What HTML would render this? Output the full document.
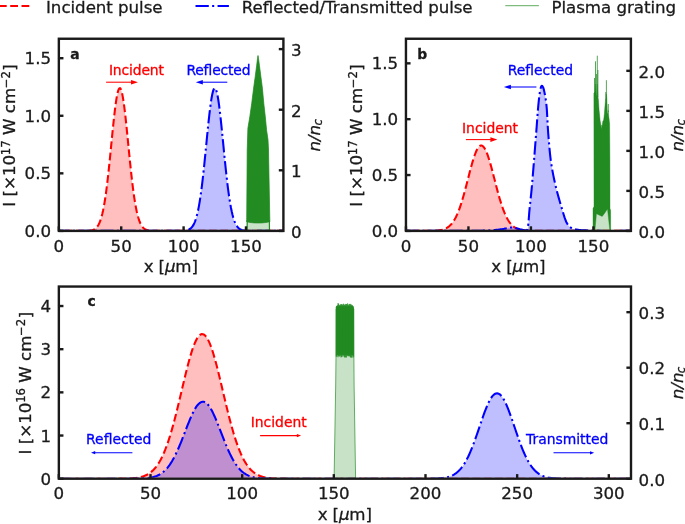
<!DOCTYPE html>
<html><head><meta charset="utf-8"><title>Figure</title>
<style>html,body{margin:0;padding:0;background:#fff}svg{display:block}</style></head>
<body>
<svg width="685" height="524" viewBox="0 0 685 524" font-family='"DejaVu Sans", "Liberation Sans", sans-serif'>
<rect width="685" height="524" fill="#fff"/>
<path d="M-1.1,6 H32.2" stroke="#ff0000" stroke-width="2.08" stroke-dasharray="7.8 3.5" fill="none"/>
<text x="46" y="12.7" font-size="16.67" text-anchor="start" fill="#1a1a1a" stroke="#1a1a1a" stroke-width="0.3" font-weight="normal" textLength="116.6">Incident pulse</text>
<path d="M195.5,6 H228.9" stroke="#0000ff" stroke-width="2.08" stroke-dasharray="13.3 3.33 2.08 3.33" fill="none"/>
<text x="241.8" y="12.7" font-size="16.67" text-anchor="start" fill="#1a1a1a" stroke="#1a1a1a" stroke-width="0.3" font-weight="normal" textLength="230.8">Reflected/Transmitted pulse</text>
<path d="M505.3,5.7 H538.9" stroke="#228b22" stroke-width="0.85" stroke-opacity="0.85" fill="none"/>
<text x="551.5" y="12.7" font-size="16.67" text-anchor="start" fill="#1a1a1a" stroke="#1a1a1a" stroke-width="0.3" font-weight="normal" textLength="124.6">Plasma grating</text>
<clipPath id="ca"><rect x="58.85" y="38.75" width="224.55" height="191.15"/></clipPath>
<path d="M58.85,230.9 L59.6,230.9 L60.35,230.9 L61.1,230.9 L61.84,230.9 L62.59,230.9 L63.34,230.9 L64.09,230.9 L64.84,230.9 L65.59,230.9 L66.34,230.9 L67.08,230.9 L67.83,230.9 L68.58,230.9 L69.33,230.9 L70.08,230.9 L70.83,230.9 L71.57,230.9 L72.32,230.9 L73.07,230.9 L73.82,230.9 L74.57,230.9 L75.32,230.9 L76.07,230.9 L76.81,230.9 L77.56,230.9 L78.31,230.9 L79.06,230.9 L79.81,230.9 L80.56,230.9 L81.31,230.9 L82.05,230.89 L82.8,230.89 L83.55,230.88 L84.3,230.88 L85.05,230.87 L85.8,230.85 L86.54,230.83 L87.29,230.81 L88.04,230.77 L88.79,230.72 L89.54,230.65 L90.29,230.56 L91.04,230.44 L91.78,230.29 L92.53,230.08 L93.28,229.82 L94.03,229.48 L94.78,229.05 L95.53,228.51 L96.28,227.84 L97.02,227 L97.77,225.98 L98.52,224.74 L99.27,223.25 L100.02,221.46 L100.77,219.35 L101.51,216.88 L102.26,214.01 L103.01,210.71 L103.76,206.96 L104.51,202.72 L105.26,198 L106.01,192.78 L106.75,187.07 L107.5,180.9 L108.25,174.3 L109,167.33 L109.75,160.06 L110.5,152.56 L111.25,144.95 L111.99,137.32 L112.74,129.81 L113.49,122.55 L114.24,115.66 L114.99,109.28 L115.74,103.55 L116.48,98.58 L117.23,94.48 L117.98,91.35 L118.73,89.25 L119.48,88.24 L120.23,88.33 L120.98,89.53 L121.72,91.8 L122.47,95.1 L123.22,99.35 L123.97,104.45 L124.72,110.3 L125.47,116.77 L126.22,123.73 L126.96,131.05 L127.71,138.59 L128.46,146.22 L129.21,153.82 L129.96,161.29 L130.71,168.52 L131.45,175.43 L132.2,181.96 L132.95,188.05 L133.7,193.68 L134.45,198.82 L135.2,203.46 L135.95,207.62 L136.69,211.29 L137.44,214.52 L138.19,217.32 L138.94,219.73 L139.69,221.78 L140.44,223.52 L141.19,224.97 L141.93,226.17 L142.68,227.16 L143.43,227.96 L144.18,228.61 L144.93,229.13 L145.68,229.54 L146.42,229.87 L147.17,230.12 L147.92,230.32 L148.67,230.47 L149.42,230.58 L150.17,230.67 L150.92,230.73 L151.66,230.78 L152.41,230.81 L153.16,230.84 L153.91,230.86 L154.66,230.87 L155.41,230.88 L156.16,230.89 L156.9,230.89 L157.65,230.89 L158.4,230.9 L159.15,230.9 L159.9,230.9 L160.65,230.9 L161.39,230.9 L162.14,230.9 L162.89,230.9 L163.64,230.9 L164.39,230.9 L165.14,230.9 L165.89,230.9 L166.63,230.9 L167.38,230.9 L168.13,230.9 L168.88,230.9 L169.63,230.9 L170.38,230.9 L171.12,230.9 L171.87,230.9 L172.62,230.9 L173.37,230.9 L174.12,230.9 L174.87,230.9 L175.62,230.9 L176.36,230.9 L177.11,230.9 L177.86,230.9 L178.61,230.9 L179.36,230.9 L180.11,230.9 L180.86,230.9 L181.6,230.9 L182.35,230.9 L183.1,230.9 L183.85,230.9 L184.6,230.9 L185.35,230.9 L186.09,230.9 L186.84,230.9 L187.59,230.9 L188.34,230.9 L189.09,230.9 L189.84,230.9 L190.59,230.9 L191.33,230.9 L192.08,230.9 L192.83,230.9 L193.58,230.9 L194.33,230.9 L195.08,230.9 L195.83,230.9 L196.57,230.9 L197.32,230.9 L198.07,230.9 L198.82,230.9 L199.57,230.9 L200.32,230.9 L201.06,230.9 L201.81,230.9 L202.56,230.9 L203.31,230.9 L204.06,230.9 L204.81,230.9 L205.56,230.9 L206.3,230.9 L207.05,230.9 L207.8,230.9 L208.55,230.9 L209.3,230.9 L210.05,230.9 L210.8,230.9 L211.54,230.9 L212.29,230.9 L213.04,230.9 L213.79,230.9 L214.54,230.9 L215.29,230.9 L216.03,230.9 L216.78,230.9 L217.53,230.9 L218.28,230.9 L219.03,230.9 L219.78,230.9 L220.53,230.9 L221.27,230.9 L222.02,230.9 L222.77,230.9 L223.52,230.9 L224.27,230.9 L225.02,230.9 L225.77,230.9 L226.51,230.9 L227.26,230.9 L228.01,230.9 L228.76,230.9 L229.51,230.9 L230.26,230.9 L231,230.9 L231.75,230.9 L232.5,230.9 L233.25,230.9 L234,230.9 L234.75,230.9 L235.5,230.9 L236.24,230.9 L236.99,230.9 L237.74,230.9 L238.49,230.9 L239.24,230.9 L239.99,230.9 L240.74,230.9 L241.48,230.9 L242.23,230.9 L242.98,230.9 L243.73,230.9 L244.48,230.9 L245.23,230.9 L245.97,230.9 L246.72,230.9 L247.47,230.9 L248.22,230.9 L248.97,230.9 L249.72,230.9 L250.47,230.9 L251.21,230.9 L251.96,230.9 L252.71,230.9 L253.46,230.9 L254.21,230.9 L254.96,230.9 L255.71,230.9 L256.45,230.9 L257.2,230.9 L257.95,230.9 L258.7,230.9 L259.45,230.9 L260.2,230.9 L260.94,230.9 L261.69,230.9 L262.44,230.9 L263.19,230.9 L263.94,230.9 L264.69,230.9 L265.44,230.9 L266.18,230.9 L266.93,230.9 L267.68,230.9 L268.43,230.9 L269.18,230.9 L269.93,230.9 L270.68,230.9 L271.42,230.9 L272.17,230.9 L272.92,230.9 L273.67,230.9 L274.42,230.9 L275.17,230.9 L275.91,230.9 L276.66,230.9 L277.41,230.9 L278.16,230.9 L278.91,230.9 L279.66,230.9 L280.41,230.9 L281.15,230.9 L281.9,230.9 L282.65,230.9 L283.4,230.9 L283.4,230.9 L58.85,230.9Z" fill="#ff0000" fill-opacity="0.25" clip-path="url(#ca)"/>
<path d="M58.85,230.9 L59.6,230.9 L60.35,230.9 L61.1,230.9 L61.84,230.9 L62.59,230.9 L63.34,230.9 L64.09,230.9 L64.84,230.9 L65.59,230.9 L66.34,230.9 L67.08,230.9 L67.83,230.9 L68.58,230.9 L69.33,230.9 L70.08,230.9 L70.83,230.9 L71.57,230.9 L72.32,230.9 L73.07,230.9 L73.82,230.9 L74.57,230.9 L75.32,230.9 L76.07,230.9 L76.81,230.9 L77.56,230.9 L78.31,230.9 L79.06,230.9 L79.81,230.9 L80.56,230.9 L81.31,230.9 L82.05,230.89 L82.8,230.89 L83.55,230.88 L84.3,230.88 L85.05,230.87 L85.8,230.85 L86.54,230.83 L87.29,230.81 L88.04,230.77 L88.79,230.72 L89.54,230.65 L90.29,230.56 L91.04,230.44 L91.78,230.29 L92.53,230.08 L93.28,229.82 L94.03,229.48 L94.78,229.05 L95.53,228.51 L96.28,227.84 L97.02,227 L97.77,225.98 L98.52,224.74 L99.27,223.25 L100.02,221.46 L100.77,219.35 L101.51,216.88 L102.26,214.01 L103.01,210.71 L103.76,206.96 L104.51,202.72 L105.26,198 L106.01,192.78 L106.75,187.07 L107.5,180.9 L108.25,174.3 L109,167.33 L109.75,160.06 L110.5,152.56 L111.25,144.95 L111.99,137.32 L112.74,129.81 L113.49,122.55 L114.24,115.66 L114.99,109.28 L115.74,103.55 L116.48,98.58 L117.23,94.48 L117.98,91.35 L118.73,89.25 L119.48,88.24 L120.23,88.33 L120.98,89.53 L121.72,91.8 L122.47,95.1 L123.22,99.35 L123.97,104.45 L124.72,110.3 L125.47,116.77 L126.22,123.73 L126.96,131.05 L127.71,138.59 L128.46,146.22 L129.21,153.82 L129.96,161.29 L130.71,168.52 L131.45,175.43 L132.2,181.96 L132.95,188.05 L133.7,193.68 L134.45,198.82 L135.2,203.46 L135.95,207.62 L136.69,211.29 L137.44,214.52 L138.19,217.32 L138.94,219.73 L139.69,221.78 L140.44,223.52 L141.19,224.97 L141.93,226.17 L142.68,227.16 L143.43,227.96 L144.18,228.61 L144.93,229.13 L145.68,229.54 L146.42,229.87 L147.17,230.12 L147.92,230.32 L148.67,230.47 L149.42,230.58 L150.17,230.67 L150.92,230.73 L151.66,230.78 L152.41,230.81 L153.16,230.84 L153.91,230.86 L154.66,230.87 L155.41,230.88 L156.16,230.89 L156.9,230.89 L157.65,230.89 L158.4,230.9 L159.15,230.9 L159.9,230.9 L160.65,230.9 L161.39,230.9 L162.14,230.9 L162.89,230.9 L163.64,230.9 L164.39,230.9 L165.14,230.9 L165.89,230.9 L166.63,230.9 L167.38,230.9 L168.13,230.9 L168.88,230.9 L169.63,230.9 L170.38,230.9 L171.12,230.9 L171.87,230.9 L172.62,230.9 L173.37,230.9 L174.12,230.9 L174.87,230.9 L175.62,230.9 L176.36,230.9 L177.11,230.9 L177.86,230.9 L178.61,230.9 L179.36,230.9 L180.11,230.9 L180.86,230.9 L181.6,230.9 L182.35,230.9 L183.1,230.9 L183.85,230.9 L184.6,230.9 L185.35,230.9 L186.09,230.9 L186.84,230.9 L187.59,230.9 L188.34,230.9 L189.09,230.9 L189.84,230.9 L190.59,230.9 L191.33,230.9 L192.08,230.9 L192.83,230.9 L193.58,230.9 L194.33,230.9 L195.08,230.9 L195.83,230.9 L196.57,230.9 L197.32,230.9 L198.07,230.9 L198.82,230.9 L199.57,230.9 L200.32,230.9 L201.06,230.9 L201.81,230.9 L202.56,230.9 L203.31,230.9 L204.06,230.9 L204.81,230.9 L205.56,230.9 L206.3,230.9 L207.05,230.9 L207.8,230.9 L208.55,230.9 L209.3,230.9 L210.05,230.9 L210.8,230.9 L211.54,230.9 L212.29,230.9 L213.04,230.9 L213.79,230.9 L214.54,230.9 L215.29,230.9 L216.03,230.9 L216.78,230.9 L217.53,230.9 L218.28,230.9 L219.03,230.9 L219.78,230.9 L220.53,230.9 L221.27,230.9 L222.02,230.9 L222.77,230.9 L223.52,230.9 L224.27,230.9 L225.02,230.9 L225.77,230.9 L226.51,230.9 L227.26,230.9 L228.01,230.9 L228.76,230.9 L229.51,230.9 L230.26,230.9 L231,230.9 L231.75,230.9 L232.5,230.9 L233.25,230.9 L234,230.9 L234.75,230.9 L235.5,230.9 L236.24,230.9 L236.99,230.9 L237.74,230.9 L238.49,230.9 L239.24,230.9 L239.99,230.9 L240.74,230.9 L241.48,230.9 L242.23,230.9 L242.98,230.9 L243.73,230.9 L244.48,230.9 L245.23,230.9 L245.97,230.9 L246.72,230.9 L247.47,230.9 L248.22,230.9 L248.97,230.9 L249.72,230.9 L250.47,230.9 L251.21,230.9 L251.96,230.9 L252.71,230.9 L253.46,230.9 L254.21,230.9 L254.96,230.9 L255.71,230.9 L256.45,230.9 L257.2,230.9 L257.95,230.9 L258.7,230.9 L259.45,230.9 L260.2,230.9 L260.94,230.9 L261.69,230.9 L262.44,230.9 L263.19,230.9 L263.94,230.9 L264.69,230.9 L265.44,230.9 L266.18,230.9 L266.93,230.9 L267.68,230.9 L268.43,230.9 L269.18,230.9 L269.93,230.9 L270.68,230.9 L271.42,230.9 L272.17,230.9 L272.92,230.9 L273.67,230.9 L274.42,230.9 L275.17,230.9 L275.91,230.9 L276.66,230.9 L277.41,230.9 L278.16,230.9 L278.91,230.9 L279.66,230.9 L280.41,230.9 L281.15,230.9 L281.9,230.9 L282.65,230.9 L283.4,230.9" fill="none" stroke="#ff0000" stroke-width="2.08" stroke-dasharray="7.8 3.5" stroke-dashoffset="5.38" clip-path="url(#ca)"/>
<path d="M58.85,230.9 L59.6,230.9 L60.35,230.9 L61.1,230.9 L61.84,230.9 L62.59,230.9 L63.34,230.9 L64.09,230.9 L64.84,230.9 L65.59,230.9 L66.34,230.9 L67.08,230.9 L67.83,230.9 L68.58,230.9 L69.33,230.9 L70.08,230.9 L70.83,230.9 L71.57,230.9 L72.32,230.9 L73.07,230.9 L73.82,230.9 L74.57,230.9 L75.32,230.9 L76.07,230.9 L76.81,230.9 L77.56,230.9 L78.31,230.9 L79.06,230.9 L79.81,230.9 L80.56,230.9 L81.31,230.9 L82.05,230.9 L82.8,230.9 L83.55,230.9 L84.3,230.9 L85.05,230.9 L85.8,230.9 L86.54,230.9 L87.29,230.9 L88.04,230.9 L88.79,230.9 L89.54,230.9 L90.29,230.9 L91.04,230.9 L91.78,230.9 L92.53,230.9 L93.28,230.9 L94.03,230.9 L94.78,230.9 L95.53,230.9 L96.28,230.9 L97.02,230.9 L97.77,230.9 L98.52,230.9 L99.27,230.9 L100.02,230.9 L100.77,230.9 L101.51,230.9 L102.26,230.9 L103.01,230.9 L103.76,230.9 L104.51,230.9 L105.26,230.9 L106.01,230.9 L106.75,230.9 L107.5,230.9 L108.25,230.9 L109,230.9 L109.75,230.9 L110.5,230.9 L111.25,230.9 L111.99,230.9 L112.74,230.9 L113.49,230.9 L114.24,230.9 L114.99,230.9 L115.74,230.9 L116.48,230.9 L117.23,230.9 L117.98,230.9 L118.73,230.9 L119.48,230.9 L120.23,230.9 L120.98,230.9 L121.72,230.9 L122.47,230.9 L123.22,230.9 L123.97,230.9 L124.72,230.9 L125.47,230.9 L126.22,230.9 L126.96,230.9 L127.71,230.9 L128.46,230.9 L129.21,230.9 L129.96,230.9 L130.71,230.9 L131.45,230.9 L132.2,230.9 L132.95,230.9 L133.7,230.9 L134.45,230.9 L135.2,230.9 L135.95,230.9 L136.69,230.9 L137.44,230.9 L138.19,230.9 L138.94,230.9 L139.69,230.9 L140.44,230.9 L141.19,230.9 L141.93,230.9 L142.68,230.9 L143.43,230.9 L144.18,230.9 L144.93,230.9 L145.68,230.9 L146.42,230.9 L147.17,230.9 L147.92,230.9 L148.67,230.9 L149.42,230.9 L150.17,230.9 L150.92,230.9 L151.66,230.9 L152.41,230.9 L153.16,230.9 L153.91,230.9 L154.66,230.9 L155.41,230.9 L156.16,230.9 L156.9,230.9 L157.65,230.9 L158.4,230.9 L159.15,230.9 L159.9,230.9 L160.65,230.9 L161.39,230.9 L162.14,230.9 L162.89,230.9 L163.64,230.9 L164.39,230.9 L165.14,230.9 L165.89,230.9 L166.63,230.9 L167.38,230.9 L168.13,230.9 L168.88,230.9 L169.63,230.9 L170.38,230.9 L171.12,230.9 L171.87,230.9 L172.62,230.9 L173.37,230.9 L174.12,230.9 L174.87,230.9 L175.62,230.9 L176.36,230.89 L177.11,230.89 L177.86,230.89 L178.61,230.88 L179.36,230.88 L180.11,230.87 L180.86,230.85 L181.6,230.83 L182.35,230.8 L183.1,230.77 L183.85,230.72 L184.6,230.65 L185.35,230.55 L186.09,230.43 L186.84,230.27 L187.59,230.06 L188.34,229.79 L189.09,229.45 L189.84,229.01 L190.59,228.46 L191.33,227.78 L192.08,226.93 L192.83,225.89 L193.58,224.63 L194.33,223.11 L195.08,221.3 L195.83,219.16 L196.57,216.66 L197.32,213.75 L198.07,210.42 L198.82,206.62 L199.57,202.35 L200.32,197.58 L201.06,192.32 L201.81,186.57 L202.56,180.36 L203.31,173.74 L204.06,166.74 L204.81,159.44 L205.56,151.93 L206.3,144.31 L207.05,136.69 L207.8,129.2 L208.55,121.96 L209.3,115.11 L210.05,108.78 L210.8,103.1 L211.54,98.2 L212.29,94.18 L213.04,91.13 L213.79,89.12 L214.54,88.2 L215.29,88.39 L216.03,89.68 L216.78,92.04 L217.53,95.42 L218.28,99.74 L219.03,104.91 L219.78,110.82 L220.53,117.34 L221.27,124.33 L222.02,131.67 L222.77,139.22 L223.52,146.86 L224.27,154.45 L225.02,161.9 L225.77,169.11 L226.51,175.99 L227.26,182.48 L228.01,188.54 L228.76,194.13 L229.51,199.22 L230.26,203.83 L231,207.94 L231.75,211.58 L232.5,214.77 L233.25,217.53 L234,219.91 L234.75,221.94 L235.5,223.65 L236.24,225.07 L236.99,226.26 L237.74,227.23 L238.49,228.02 L239.24,228.66 L239.99,229.17 L240.74,229.57 L241.48,229.89 L242.23,230.14 L242.98,230.33 L243.73,230.48 L244.48,230.59 L245.23,230.67 L245.97,230.73 L246.72,230.78 L247.47,230.81 L248.22,230.84 L248.97,230.86 L249.72,230.87 L250.47,230.88 L251.21,230.89 L251.96,230.89 L252.71,230.89 L253.46,230.9 L254.21,230.9 L254.96,230.9 L255.71,230.9 L256.45,230.9 L257.2,230.9 L257.95,230.9 L258.7,230.9 L259.45,230.9 L260.2,230.9 L260.94,230.9 L261.69,230.9 L262.44,230.9 L263.19,230.9 L263.94,230.9 L264.69,230.9 L265.44,230.9 L266.18,230.9 L266.93,230.9 L267.68,230.9 L268.43,230.9 L269.18,230.9 L269.93,230.9 L270.68,230.9 L271.42,230.9 L272.17,230.9 L272.92,230.9 L273.67,230.9 L274.42,230.9 L275.17,230.9 L275.91,230.9 L276.66,230.9 L277.41,230.9 L278.16,230.9 L278.91,230.9 L279.66,230.9 L280.41,230.9 L281.15,230.9 L281.9,230.9 L282.65,230.9 L283.4,230.9 L283.4,230.9 L58.85,230.9Z" fill="#0000ff" fill-opacity="0.25" clip-path="url(#ca)"/>
<path d="M58.85,230.9 L59.6,230.9 L60.35,230.9 L61.1,230.9 L61.84,230.9 L62.59,230.9 L63.34,230.9 L64.09,230.9 L64.84,230.9 L65.59,230.9 L66.34,230.9 L67.08,230.9 L67.83,230.9 L68.58,230.9 L69.33,230.9 L70.08,230.9 L70.83,230.9 L71.57,230.9 L72.32,230.9 L73.07,230.9 L73.82,230.9 L74.57,230.9 L75.32,230.9 L76.07,230.9 L76.81,230.9 L77.56,230.9 L78.31,230.9 L79.06,230.9 L79.81,230.9 L80.56,230.9 L81.31,230.9 L82.05,230.9 L82.8,230.9 L83.55,230.9 L84.3,230.9 L85.05,230.9 L85.8,230.9 L86.54,230.9 L87.29,230.9 L88.04,230.9 L88.79,230.9 L89.54,230.9 L90.29,230.9 L91.04,230.9 L91.78,230.9 L92.53,230.9 L93.28,230.9 L94.03,230.9 L94.78,230.9 L95.53,230.9 L96.28,230.9 L97.02,230.9 L97.77,230.9 L98.52,230.9 L99.27,230.9 L100.02,230.9 L100.77,230.9 L101.51,230.9 L102.26,230.9 L103.01,230.9 L103.76,230.9 L104.51,230.9 L105.26,230.9 L106.01,230.9 L106.75,230.9 L107.5,230.9 L108.25,230.9 L109,230.9 L109.75,230.9 L110.5,230.9 L111.25,230.9 L111.99,230.9 L112.74,230.9 L113.49,230.9 L114.24,230.9 L114.99,230.9 L115.74,230.9 L116.48,230.9 L117.23,230.9 L117.98,230.9 L118.73,230.9 L119.48,230.9 L120.23,230.9 L120.98,230.9 L121.72,230.9 L122.47,230.9 L123.22,230.9 L123.97,230.9 L124.72,230.9 L125.47,230.9 L126.22,230.9 L126.96,230.9 L127.71,230.9 L128.46,230.9 L129.21,230.9 L129.96,230.9 L130.71,230.9 L131.45,230.9 L132.2,230.9 L132.95,230.9 L133.7,230.9 L134.45,230.9 L135.2,230.9 L135.95,230.9 L136.69,230.9 L137.44,230.9 L138.19,230.9 L138.94,230.9 L139.69,230.9 L140.44,230.9 L141.19,230.9 L141.93,230.9 L142.68,230.9 L143.43,230.9 L144.18,230.9 L144.93,230.9 L145.68,230.9 L146.42,230.9 L147.17,230.9 L147.92,230.9 L148.67,230.9 L149.42,230.9 L150.17,230.9 L150.92,230.9 L151.66,230.9 L152.41,230.9 L153.16,230.9 L153.91,230.9 L154.66,230.9 L155.41,230.9 L156.16,230.9 L156.9,230.9 L157.65,230.9 L158.4,230.9 L159.15,230.9 L159.9,230.9 L160.65,230.9 L161.39,230.9 L162.14,230.9 L162.89,230.9 L163.64,230.9 L164.39,230.9 L165.14,230.9 L165.89,230.9 L166.63,230.9 L167.38,230.9 L168.13,230.9 L168.88,230.9 L169.63,230.9 L170.38,230.9 L171.12,230.9 L171.87,230.9 L172.62,230.9 L173.37,230.9 L174.12,230.9 L174.87,230.9 L175.62,230.9 L176.36,230.89 L177.11,230.89 L177.86,230.89 L178.61,230.88 L179.36,230.88 L180.11,230.87 L180.86,230.85 L181.6,230.83 L182.35,230.8 L183.1,230.77 L183.85,230.72 L184.6,230.65 L185.35,230.55 L186.09,230.43 L186.84,230.27 L187.59,230.06 L188.34,229.79 L189.09,229.45 L189.84,229.01 L190.59,228.46 L191.33,227.78 L192.08,226.93 L192.83,225.89 L193.58,224.63 L194.33,223.11 L195.08,221.3 L195.83,219.16 L196.57,216.66 L197.32,213.75 L198.07,210.42 L198.82,206.62 L199.57,202.35 L200.32,197.58 L201.06,192.32 L201.81,186.57 L202.56,180.36 L203.31,173.74 L204.06,166.74 L204.81,159.44 L205.56,151.93 L206.3,144.31 L207.05,136.69 L207.8,129.2 L208.55,121.96 L209.3,115.11 L210.05,108.78 L210.8,103.1 L211.54,98.2 L212.29,94.18 L213.04,91.13 L213.79,89.12 L214.54,88.2 L215.29,88.39 L216.03,89.68 L216.78,92.04 L217.53,95.42 L218.28,99.74 L219.03,104.91 L219.78,110.82 L220.53,117.34 L221.27,124.33 L222.02,131.67 L222.77,139.22 L223.52,146.86 L224.27,154.45 L225.02,161.9 L225.77,169.11 L226.51,175.99 L227.26,182.48 L228.01,188.54 L228.76,194.13 L229.51,199.22 L230.26,203.83 L231,207.94 L231.75,211.58 L232.5,214.77 L233.25,217.53 L234,219.91 L234.75,221.94 L235.5,223.65 L236.24,225.07 L236.99,226.26 L237.74,227.23 L238.49,228.02 L239.24,228.66 L239.99,229.17 L240.74,229.57 L241.48,229.89 L242.23,230.14 L242.98,230.33 L243.73,230.48 L244.48,230.59 L245.23,230.67 L245.97,230.73 L246.72,230.78 L247.47,230.81 L248.22,230.84 L248.97,230.86 L249.72,230.87 L250.47,230.88 L251.21,230.89 L251.96,230.89 L252.71,230.89 L253.46,230.9 L254.21,230.9 L254.96,230.9 L255.71,230.9 L256.45,230.9 L257.2,230.9 L257.95,230.9 L258.7,230.9 L259.45,230.9 L260.2,230.9 L260.94,230.9 L261.69,230.9 L262.44,230.9 L263.19,230.9 L263.94,230.9 L264.69,230.9 L265.44,230.9 L266.18,230.9 L266.93,230.9 L267.68,230.9 L268.43,230.9 L269.18,230.9 L269.93,230.9 L270.68,230.9 L271.42,230.9 L272.17,230.9 L272.92,230.9 L273.67,230.9 L274.42,230.9 L275.17,230.9 L275.91,230.9 L276.66,230.9 L277.41,230.9 L278.16,230.9 L278.91,230.9 L279.66,230.9 L280.41,230.9 L281.15,230.9 L281.9,230.9 L282.65,230.9 L283.4,230.9" fill="none" stroke="#0000ff" stroke-width="2.08" stroke-dasharray="13.3 3.33 2.08 3.33" stroke-dashoffset="2.6" clip-path="url(#ca)"/>
<path d="M246.5,230.9 L247.2,150 L247.9,128.2 L249.8,116.8 L251.7,103.4 L253.6,88.2 L255.2,76.7 L256.7,65.3 L257.5,58.5 L258,55.5 L258.5,58.5 L259.4,65.3 L260.9,76.7 L262.4,88.2 L263.8,103.4 L265.3,116.8 L266.6,130.2 L268,139.7 L268.5,150 L270,230.9Z" fill="#228b22" fill-opacity="0.25"/>
<path d="M247.2,150 L247.9,128.2 L249.8,116.8 L251.7,103.4 L253.6,88.2 L255.2,76.7 L256.7,65.3 L257.5,58.5 L258,55.5 L258.5,58.5 L259.4,65.3 L260.9,76.7 L262.4,88.2 L263.8,103.4 L265.3,116.8 L266.6,130.2 L268,139.7 L268.5,150 L269.85,221.9 L268.8,221.9 L266,222.5 L262,222.9 L258,223 L254,222.9 L250,222.5 L247.8,221.9 L246.7,221.9Z" fill="#228b22" stroke="#228b22" stroke-width="0.7" stroke-linejoin="round"/>
<path d="M247.1,230.9 L247.3,220 M269.5,230.9 L269.35,220" stroke="#228b22" stroke-width="1.2" fill="none"/>
<rect x="58.85" y="38.75" width="224.55" height="192.15" fill="none" stroke="#1a1a1a" stroke-width="2.4"/>
<path d="M58.85,230.9 V226.3" stroke="#1a1a1a" stroke-width="2.4"/>
<text x="58.85" y="251.6" font-size="16.67" text-anchor="middle" fill="#1a1a1a" stroke="#1a1a1a" stroke-width="0.3" font-weight="normal">0</text>
<path d="M121.22,230.9 V226.3" stroke="#1a1a1a" stroke-width="2.4"/>
<text x="121.22" y="251.6" font-size="16.67" text-anchor="middle" fill="#1a1a1a" stroke="#1a1a1a" stroke-width="0.3" font-weight="normal">50</text>
<path d="M183.6,230.9 V226.3" stroke="#1a1a1a" stroke-width="2.4"/>
<text x="183.6" y="251.6" font-size="16.67" text-anchor="middle" fill="#1a1a1a" stroke="#1a1a1a" stroke-width="0.3" font-weight="normal">100</text>
<path d="M245.97,230.9 V226.3" stroke="#1a1a1a" stroke-width="2.4"/>
<text x="245.97" y="251.6" font-size="16.67" text-anchor="middle" fill="#1a1a1a" stroke="#1a1a1a" stroke-width="0.3" font-weight="normal">150</text>
<path d="M58.85,230.9 H63.45" stroke="#1a1a1a" stroke-width="2.4"/>
<text x="51.05" y="236.9" font-size="16.67" text-anchor="end" fill="#1a1a1a" stroke="#1a1a1a" stroke-width="0.3" font-weight="normal">0.0</text>
<path d="M58.85,173.34 H63.45" stroke="#1a1a1a" stroke-width="2.4"/>
<text x="51.05" y="179.34" font-size="16.67" text-anchor="end" fill="#1a1a1a" stroke="#1a1a1a" stroke-width="0.3" font-weight="normal">0.5</text>
<path d="M58.85,115.77 H63.45" stroke="#1a1a1a" stroke-width="2.4"/>
<text x="51.05" y="121.77" font-size="16.67" text-anchor="end" fill="#1a1a1a" stroke="#1a1a1a" stroke-width="0.3" font-weight="normal">1.0</text>
<path d="M58.85,58.21 H63.45" stroke="#1a1a1a" stroke-width="2.4"/>
<text x="51.05" y="64.21" font-size="16.67" text-anchor="end" fill="#1a1a1a" stroke="#1a1a1a" stroke-width="0.3" font-weight="normal">1.5</text>
<path d="M283.4,230.9 H278.8" stroke="#1a1a1a" stroke-width="2.4"/>
<text x="291" y="237.7" font-size="16.67" text-anchor="start" fill="#1a1a1a" stroke="#1a1a1a" stroke-width="0.3" font-weight="normal">0</text>
<path d="M283.4,170.3 H278.8" stroke="#1a1a1a" stroke-width="2.4"/>
<text x="291" y="177.1" font-size="16.67" text-anchor="start" fill="#1a1a1a" stroke="#1a1a1a" stroke-width="0.3" font-weight="normal">1</text>
<path d="M283.4,109.71 H278.8" stroke="#1a1a1a" stroke-width="2.4"/>
<text x="291" y="116.51" font-size="16.67" text-anchor="start" fill="#1a1a1a" stroke="#1a1a1a" stroke-width="0.3" font-weight="normal">2</text>
<path d="M283.4,49.11 H278.8" stroke="#1a1a1a" stroke-width="2.4"/>
<text x="291" y="55.91" font-size="16.67" text-anchor="start" fill="#1a1a1a" stroke="#1a1a1a" stroke-width="0.3" font-weight="normal">3</text>
<text x="143.7" y="272" font-size="16.67" text-anchor="start" textLength="54.2" fill="#1a1a1a" stroke="#1a1a1a" stroke-width="0.3">x [<tspan font-style="italic">μ</tspan>m]</text>
<text transform="translate(15.2,206.7) rotate(-90)" font-size="16.67" text-anchor="start" fill="#1a1a1a" stroke="#1a1a1a" stroke-width="0.3">I [×10<tspan dx="-0.3" dy="-5.3" font-size="11.67">17</tspan><tspan dy="5.3"> W cm</tspan><tspan dx="-0.5" dy="-5.3" font-size="11.67">−2</tspan><tspan dx="0.5" dy="5.3">]</tspan></text>
<text transform="translate(320.1,135.3) rotate(-90)" font-size="16.67" text-anchor="middle" fill="#1a1a1a" stroke="#1a1a1a" stroke-width="0.3" font-style="italic">n/n<tspan dx="-0.6" dy="1.4" font-size="11.67">c</tspan></text>
<text x="70.2" y="58.7" font-size="13.9" text-anchor="start" fill="#1a1a1a" stroke="#1a1a1a" stroke-width="0.3" font-weight="bold">a</text>
<text x="108.9" y="75.2" font-size="13.9" text-anchor="start" fill="#ff0000" stroke="#ff0000" stroke-width="0.3" font-weight="normal" textLength="55.1">Incident</text>
<path d="M106.1,82.2 L133.1,82.2" stroke="#ff0000" stroke-width="1.05" fill="none"/>
<path d="M138,82.2 L131,79.9 L131,84.5 Z" fill="#ff0000"/>
<text x="186.4" y="75.2" font-size="13.9" text-anchor="start" fill="#0000ff" stroke="#0000ff" stroke-width="0.3" font-weight="normal" textLength="64.1">Reflected</text>
<path d="M227.3,82.2 L200.7,82.2" stroke="#0000ff" stroke-width="1.05" fill="none"/>
<path d="M195.8,82.2 L202.8,79.9 L202.8,84.5 Z" fill="#0000ff"/>
<clipPath id="cb"><rect x="405.95" y="38.75" width="224.95" height="191.15"/></clipPath>
<path d="M405.95,230.9 L406.7,230.9 L407.45,230.9 L408.2,230.9 L408.95,230.9 L409.7,230.9 L410.45,230.9 L411.2,230.9 L411.95,230.9 L412.7,230.9 L413.45,230.9 L414.2,230.9 L414.95,230.9 L415.7,230.9 L416.45,230.9 L417.2,230.9 L417.95,230.9 L418.7,230.9 L419.45,230.9 L420.2,230.9 L420.95,230.9 L421.7,230.9 L422.45,230.9 L423.2,230.89 L423.95,230.89 L424.7,230.89 L425.45,230.89 L426.2,230.88 L426.95,230.88 L427.7,230.88 L428.44,230.87 L429.19,230.86 L429.94,230.85 L430.69,230.84 L431.44,230.83 L432.19,230.81 L432.94,230.79 L433.69,230.76 L434.44,230.73 L435.19,230.69 L435.94,230.65 L436.69,230.6 L437.44,230.53 L438.19,230.46 L438.94,230.37 L439.69,230.27 L440.44,230.15 L441.19,230 L441.94,229.84 L442.69,229.65 L443.44,229.42 L444.19,229.17 L444.94,228.88 L445.69,228.54 L446.44,228.16 L447.19,227.73 L447.94,227.24 L448.69,226.68 L449.44,226.06 L450.19,225.37 L450.94,224.6 L451.69,223.74 L452.44,222.79 L453.19,221.74 L453.94,220.6 L454.69,219.34 L455.44,217.98 L456.19,216.5 L456.94,214.9 L457.69,213.18 L458.44,211.34 L459.19,209.38 L459.94,207.3 L460.69,205.1 L461.44,202.78 L462.19,200.35 L462.94,197.82 L463.69,195.2 L464.44,192.49 L465.19,189.7 L465.94,186.86 L466.69,183.97 L467.44,181.05 L468.19,178.12 L468.94,175.2 L469.69,172.3 L470.44,169.45 L471.19,166.66 L471.94,163.96 L472.69,161.38 L473.44,158.92 L474.18,156.62 L474.93,154.49 L475.68,152.54 L476.43,150.81 L477.18,149.3 L477.93,148.02 L478.68,147 L479.43,146.24 L480.18,145.74 L480.93,145.51 L481.68,145.55 L482.43,145.87 L483.18,146.46 L483.93,147.31 L484.68,148.42 L485.43,149.78 L486.18,151.36 L486.93,153.17 L487.68,155.18 L488.43,157.37 L489.18,159.72 L489.93,162.23 L490.68,164.85 L491.43,167.58 L492.18,170.39 L492.93,173.26 L493.68,176.17 L494.43,179.1 L495.18,182.03 L495.93,184.94 L496.68,187.81 L497.43,190.64 L498.18,193.4 L498.93,196.08 L499.68,198.68 L500.43,201.17 L501.18,203.56 L501.93,205.84 L502.68,208 L503.43,210.05 L504.18,211.97 L504.93,213.77 L505.68,215.45 L506.43,217 L507.18,218.44 L507.93,219.77 L508.68,220.99 L509.43,222.1 L510.18,223.11 L510.93,224.03 L511.68,224.86 L512.43,225.61 L513.18,226.28 L513.93,226.87 L514.68,227.41 L515.43,227.88 L516.18,228.29 L516.93,228.66 L517.68,228.98 L518.42,229.26 L519.17,229.5 L519.92,229.71 L520.67,229.9 L521.42,230.05 L522.17,230.19 L522.92,230.3 L523.67,230.4 L524.42,230.49 L525.17,230.56 L525.92,230.62 L526.67,230.67 L527.42,230.71 L528.17,230.74 L528.92,230.77 L529.67,230.79 L530.42,230.81 L531.17,230.83 L531.92,230.84 L532.67,230.86 L533.42,230.86 L534.17,230.87 L534.92,230.88 L535.67,230.88 L536.42,230.89 L537.17,230.89 L537.92,230.89 L538.67,230.89 L539.42,230.89 L540.17,230.9 L540.92,230.9 L541.67,230.9 L542.42,230.9 L543.17,230.9 L543.92,230.9 L544.67,230.9 L545.42,230.9 L546.17,230.9 L546.92,230.9 L547.67,230.9 L548.42,230.9 L549.17,230.9 L549.92,230.9 L550.67,230.9 L551.42,230.9 L552.17,230.9 L552.92,230.9 L553.67,230.9 L554.42,230.9 L555.17,230.9 L555.92,230.9 L556.67,230.9 L557.42,230.9 L558.17,230.9 L558.92,230.9 L559.67,230.9 L560.42,230.9 L561.17,230.9 L561.92,230.9 L562.67,230.9 L563.41,230.9 L564.16,230.9 L564.91,230.9 L565.66,230.9 L566.41,230.9 L567.16,230.9 L567.91,230.9 L568.66,230.9 L569.41,230.9 L570.16,230.9 L570.91,230.9 L571.66,230.9 L572.41,230.9 L573.16,230.9 L573.91,230.9 L574.66,230.9 L575.41,230.9 L576.16,230.9 L576.91,230.9 L577.66,230.9 L578.41,230.9 L579.16,230.9 L579.91,230.9 L580.66,230.9 L581.41,230.9 L582.16,230.9 L582.91,230.9 L583.66,230.9 L584.41,230.9 L585.16,230.9 L585.91,230.9 L586.66,230.9 L587.41,230.9 L588.16,230.9 L588.91,230.9 L589.66,230.9 L590.41,230.9 L591.16,230.9 L591.91,230.9 L592.66,230.9 L593.41,230.9 L594.16,230.9 L594.91,230.9 L595.66,230.9 L596.41,230.9 L597.16,230.9 L597.91,230.9 L598.66,230.9 L599.41,230.9 L600.16,230.9 L600.91,230.9 L601.66,230.9 L602.41,230.9 L603.16,230.9 L603.91,230.9 L604.66,230.9 L605.41,230.9 L606.16,230.9 L606.91,230.9 L607.66,230.9 L608.4,230.9 L609.15,230.9 L609.9,230.9 L610.65,230.9 L611.4,230.9 L612.15,230.9 L612.9,230.9 L613.65,230.9 L614.4,230.9 L615.15,230.9 L615.9,230.9 L616.65,230.9 L617.4,230.9 L618.15,230.9 L618.9,230.9 L619.65,230.9 L620.4,230.9 L621.15,230.9 L621.9,230.9 L622.65,230.9 L623.4,230.9 L624.15,230.9 L624.9,230.9 L625.65,230.9 L626.4,230.9 L627.15,230.9 L627.9,230.9 L628.65,230.9 L629.4,230.9 L630.15,230.9 L630.9,230.9 L630.9,230.9 L405.95,230.9Z" fill="#ff0000" fill-opacity="0.25" clip-path="url(#cb)"/>
<path d="M405.95,230.9 L406.7,230.9 L407.45,230.9 L408.2,230.9 L408.95,230.9 L409.7,230.9 L410.45,230.9 L411.2,230.9 L411.95,230.9 L412.7,230.9 L413.45,230.9 L414.2,230.9 L414.95,230.9 L415.7,230.9 L416.45,230.9 L417.2,230.9 L417.95,230.9 L418.7,230.9 L419.45,230.9 L420.2,230.9 L420.95,230.9 L421.7,230.9 L422.45,230.9 L423.2,230.89 L423.95,230.89 L424.7,230.89 L425.45,230.89 L426.2,230.88 L426.95,230.88 L427.7,230.88 L428.44,230.87 L429.19,230.86 L429.94,230.85 L430.69,230.84 L431.44,230.83 L432.19,230.81 L432.94,230.79 L433.69,230.76 L434.44,230.73 L435.19,230.69 L435.94,230.65 L436.69,230.6 L437.44,230.53 L438.19,230.46 L438.94,230.37 L439.69,230.27 L440.44,230.15 L441.19,230 L441.94,229.84 L442.69,229.65 L443.44,229.42 L444.19,229.17 L444.94,228.88 L445.69,228.54 L446.44,228.16 L447.19,227.73 L447.94,227.24 L448.69,226.68 L449.44,226.06 L450.19,225.37 L450.94,224.6 L451.69,223.74 L452.44,222.79 L453.19,221.74 L453.94,220.6 L454.69,219.34 L455.44,217.98 L456.19,216.5 L456.94,214.9 L457.69,213.18 L458.44,211.34 L459.19,209.38 L459.94,207.3 L460.69,205.1 L461.44,202.78 L462.19,200.35 L462.94,197.82 L463.69,195.2 L464.44,192.49 L465.19,189.7 L465.94,186.86 L466.69,183.97 L467.44,181.05 L468.19,178.12 L468.94,175.2 L469.69,172.3 L470.44,169.45 L471.19,166.66 L471.94,163.96 L472.69,161.38 L473.44,158.92 L474.18,156.62 L474.93,154.49 L475.68,152.54 L476.43,150.81 L477.18,149.3 L477.93,148.02 L478.68,147 L479.43,146.24 L480.18,145.74 L480.93,145.51 L481.68,145.55 L482.43,145.87 L483.18,146.46 L483.93,147.31 L484.68,148.42 L485.43,149.78 L486.18,151.36 L486.93,153.17 L487.68,155.18 L488.43,157.37 L489.18,159.72 L489.93,162.23 L490.68,164.85 L491.43,167.58 L492.18,170.39 L492.93,173.26 L493.68,176.17 L494.43,179.1 L495.18,182.03 L495.93,184.94 L496.68,187.81 L497.43,190.64 L498.18,193.4 L498.93,196.08 L499.68,198.68 L500.43,201.17 L501.18,203.56 L501.93,205.84 L502.68,208 L503.43,210.05 L504.18,211.97 L504.93,213.77 L505.68,215.45 L506.43,217 L507.18,218.44 L507.93,219.77 L508.68,220.99 L509.43,222.1 L510.18,223.11 L510.93,224.03 L511.68,224.86 L512.43,225.61 L513.18,226.28 L513.93,226.87 L514.68,227.41 L515.43,227.88 L516.18,228.29 L516.93,228.66 L517.68,228.98 L518.42,229.26 L519.17,229.5 L519.92,229.71 L520.67,229.9 L521.42,230.05 L522.17,230.19 L522.92,230.3 L523.67,230.4 L524.42,230.49 L525.17,230.56 L525.92,230.62 L526.67,230.67 L527.42,230.71 L528.17,230.74 L528.92,230.77 L529.67,230.79 L530.42,230.81 L531.17,230.83 L531.92,230.84 L532.67,230.86 L533.42,230.86 L534.17,230.87 L534.92,230.88 L535.67,230.88 L536.42,230.89 L537.17,230.89 L537.92,230.89 L538.67,230.89 L539.42,230.89 L540.17,230.9 L540.92,230.9 L541.67,230.9 L542.42,230.9 L543.17,230.9 L543.92,230.9 L544.67,230.9 L545.42,230.9 L546.17,230.9 L546.92,230.9 L547.67,230.9 L548.42,230.9 L549.17,230.9 L549.92,230.9 L550.67,230.9 L551.42,230.9 L552.17,230.9 L552.92,230.9 L553.67,230.9 L554.42,230.9 L555.17,230.9 L555.92,230.9 L556.67,230.9 L557.42,230.9 L558.17,230.9 L558.92,230.9 L559.67,230.9 L560.42,230.9 L561.17,230.9 L561.92,230.9 L562.67,230.9 L563.41,230.9 L564.16,230.9 L564.91,230.9 L565.66,230.9 L566.41,230.9 L567.16,230.9 L567.91,230.9 L568.66,230.9 L569.41,230.9 L570.16,230.9 L570.91,230.9 L571.66,230.9 L572.41,230.9 L573.16,230.9 L573.91,230.9 L574.66,230.9 L575.41,230.9 L576.16,230.9 L576.91,230.9 L577.66,230.9 L578.41,230.9 L579.16,230.9 L579.91,230.9 L580.66,230.9 L581.41,230.9 L582.16,230.9 L582.91,230.9 L583.66,230.9 L584.41,230.9 L585.16,230.9 L585.91,230.9 L586.66,230.9 L587.41,230.9 L588.16,230.9 L588.91,230.9 L589.66,230.9 L590.41,230.9 L591.16,230.9 L591.91,230.9 L592.66,230.9 L593.41,230.9 L594.16,230.9 L594.91,230.9 L595.66,230.9 L596.41,230.9 L597.16,230.9 L597.91,230.9 L598.66,230.9 L599.41,230.9 L600.16,230.9 L600.91,230.9 L601.66,230.9 L602.41,230.9 L603.16,230.9 L603.91,230.9 L604.66,230.9 L605.41,230.9 L606.16,230.9 L606.91,230.9 L607.66,230.9 L608.4,230.9 L609.15,230.9 L609.9,230.9 L610.65,230.9 L611.4,230.9 L612.15,230.9 L612.9,230.9 L613.65,230.9 L614.4,230.9 L615.15,230.9 L615.9,230.9 L616.65,230.9 L617.4,230.9 L618.15,230.9 L618.9,230.9 L619.65,230.9 L620.4,230.9 L621.15,230.9 L621.9,230.9 L622.65,230.9 L623.4,230.9 L624.15,230.9 L624.9,230.9 L625.65,230.9 L626.4,230.9 L627.15,230.9 L627.9,230.9 L628.65,230.9 L629.4,230.9 L630.15,230.9 L630.9,230.9" fill="none" stroke="#ff0000" stroke-width="2.08" stroke-dasharray="7.8 3.5" stroke-dashoffset="4.86" clip-path="url(#cb)"/>
<path d="M406.6,230.9 L414.06,230.89 L424.83,230.88 L437.36,230.86 L450.1,230.84 L461.5,230.82 L470,230.8 L475.36,230.78 L478.77,230.76 L480.84,230.73 L482.16,230.7 L483.35,230.66 L485,230.6 L486.98,230.53 L488.78,230.44 L490.44,230.35 L492,230.24 L493.51,230.13 L495,230 L496.48,229.85 L497.93,229.69 L499.31,229.52 L500.63,229.34 L501.86,229.17 L503,228.99 L504.02,228.82 L504.94,228.64 L505.78,228.46 L506.56,228.29 L507.29,228.13 L508,227.99 L508.67,227.87 L509.28,227.75 L509.84,227.65 L510.39,227.57 L510.93,227.52 L511.5,227.49 L512.07,227.49 L512.61,227.52 L513.16,227.58 L513.72,227.66 L514.33,227.76 L515,227.89 L515.75,228.06 L516.57,228.27 L517.44,228.51 L518.31,228.75 L519.18,228.98 L520,229.2 L520.8,229.39 L521.6,229.6 L522.39,229.79 L523.15,229.96 L523.86,230.1 L524.5,230.2 L525.07,230.3 L525.59,230.42 L526.06,230.51 L526.49,230.51 L526.86,230.36 L527.2,230 L527.47,229.48 L527.68,228.86 L527.84,228.09 L527.99,227.12 L528.13,225.9 L528.3,224.38 L528.48,222.54 L528.66,220.42 L528.83,218.05 L529.02,215.46 L529.24,212.68 L529.5,209.74 L529.81,206.63 L530.16,203.32 L530.53,199.82 L530.92,196.14 L531.32,192.29 L531.7,188.28 L532.08,184.08 L532.46,179.65 L532.84,175.06 L533.22,170.35 L533.61,165.55 L534,160.71 L534.4,155.71 L534.81,150.51 L535.22,145.23 L535.63,139.98 L536.03,134.91 L536.4,130.12 L536.75,125.57 L537.07,121.14 L537.38,116.88 L537.69,112.83 L537.99,109.04 L538.3,105.55 L538.62,102.35 L538.94,99.38 L539.26,96.67 L539.58,94.24 L539.89,92.12 L540.2,90.31 L540.49,88.85 L540.77,87.71 L541.04,86.88 L541.31,86.32 L541.6,86 L541.9,85.9 L542.22,86 L542.56,86.32 L542.9,86.88 L543.26,87.71 L543.62,88.85 L544,90.31 L544.41,92.12 L544.84,94.24 L545.29,96.67 L545.73,99.38 L546.14,102.35 L546.5,105.55 L546.8,109.11 L547.05,113.06 L547.27,117.26 L547.49,121.59 L547.73,125.93 L548,130.12 L548.31,134.31 L548.65,138.62 L549.01,142.93 L549.37,147.11 L549.74,151.04 L550.1,154.59 L550.44,157.64 L550.76,160.27 L551.09,162.64 L551.44,164.93 L551.83,167.31 L552.3,169.93 L552.84,172.82 L553.43,175.83 L554.07,178.92 L554.75,182.05 L555.46,185.19 L556.2,188.28 L556.98,191.38 L557.81,194.51 L558.68,197.65 L559.56,200.74 L560.44,203.75 L561.3,206.63 L562.14,209.47 L562.97,212.31 L563.79,215.07 L564.62,217.66 L565.46,219.99 L566.3,221.98 L567.14,223.58 L567.97,224.86 L568.81,225.89 L569.66,226.72 L570.56,227.43 L571.5,228.09 L572.48,228.64 L573.47,229.02 L574.49,229.28 L575.58,229.47 L576.74,229.62 L578,229.8 L579.35,229.98 L580.77,230.12 L582.26,230.23 L583.84,230.32 L585.52,230.41 L587.3,230.5 L589.01,230.59 L590.6,230.67 L592.29,230.74 L594.29,230.81 L596.78,230.86 L600,230.9 L604.47,230.92 L610.13,230.93 L616.29,230.93 L622.29,230.91 L627.42,230.9 L631,230.9 L631,230.9 L406.6,230.9Z" fill="#0000ff" fill-opacity="0.25" clip-path="url(#cb)"/>
<path d="M406.6,230.9 L414.06,230.89 L424.83,230.88 L437.36,230.86 L450.1,230.84 L461.5,230.82 L470,230.8 L475.36,230.78 L478.77,230.76 L480.84,230.73 L482.16,230.7 L483.35,230.66 L485,230.6 L486.98,230.53 L488.78,230.44 L490.44,230.35 L492,230.24 L493.51,230.13 L495,230 L496.48,229.85 L497.93,229.69 L499.31,229.52 L500.63,229.34 L501.86,229.17 L503,228.99 L504.02,228.82 L504.94,228.64 L505.78,228.46 L506.56,228.29 L507.29,228.13 L508,227.99 L508.67,227.87 L509.28,227.75 L509.84,227.65 L510.39,227.57 L510.93,227.52 L511.5,227.49 L512.07,227.49 L512.61,227.52 L513.16,227.58 L513.72,227.66 L514.33,227.76 L515,227.89 L515.75,228.06 L516.57,228.27 L517.44,228.51 L518.31,228.75 L519.18,228.98 L520,229.2 L520.8,229.39 L521.6,229.6 L522.39,229.79 L523.15,229.96 L523.86,230.1 L524.5,230.2 L525.07,230.3 L525.59,230.42 L526.06,230.51 L526.49,230.51 L526.86,230.36 L527.2,230 L527.47,229.48 L527.68,228.86 L527.84,228.09 L527.99,227.12 L528.13,225.9 L528.3,224.38 L528.48,222.54 L528.66,220.42 L528.83,218.05 L529.02,215.46 L529.24,212.68 L529.5,209.74 L529.81,206.63 L530.16,203.32 L530.53,199.82 L530.92,196.14 L531.32,192.29 L531.7,188.28 L532.08,184.08 L532.46,179.65 L532.84,175.06 L533.22,170.35 L533.61,165.55 L534,160.71 L534.4,155.71 L534.81,150.51 L535.22,145.23 L535.63,139.98 L536.03,134.91 L536.4,130.12 L536.75,125.57 L537.07,121.14 L537.38,116.88 L537.69,112.83 L537.99,109.04 L538.3,105.55 L538.62,102.35 L538.94,99.38 L539.26,96.67 L539.58,94.24 L539.89,92.12 L540.2,90.31 L540.49,88.85 L540.77,87.71 L541.04,86.88 L541.31,86.32 L541.6,86 L541.9,85.9 L542.22,86 L542.56,86.32 L542.9,86.88 L543.26,87.71 L543.62,88.85 L544,90.31 L544.41,92.12 L544.84,94.24 L545.29,96.67 L545.73,99.38 L546.14,102.35 L546.5,105.55 L546.8,109.11 L547.05,113.06 L547.27,117.26 L547.49,121.59 L547.73,125.93 L548,130.12 L548.31,134.31 L548.65,138.62 L549.01,142.93 L549.37,147.11 L549.74,151.04 L550.1,154.59 L550.44,157.64 L550.76,160.27 L551.09,162.64 L551.44,164.93 L551.83,167.31 L552.3,169.93 L552.84,172.82 L553.43,175.83 L554.07,178.92 L554.75,182.05 L555.46,185.19 L556.2,188.28 L556.98,191.38 L557.81,194.51 L558.68,197.65 L559.56,200.74 L560.44,203.75 L561.3,206.63 L562.14,209.47 L562.97,212.31 L563.79,215.07 L564.62,217.66 L565.46,219.99 L566.3,221.98 L567.14,223.58 L567.97,224.86 L568.81,225.89 L569.66,226.72 L570.56,227.43 L571.5,228.09 L572.48,228.64 L573.47,229.02 L574.49,229.28 L575.58,229.47 L576.74,229.62 L578,229.8 L579.35,229.98 L580.77,230.12 L582.26,230.23 L583.84,230.32 L585.52,230.41 L587.3,230.5 L589.01,230.59 L590.6,230.67 L592.29,230.74 L594.29,230.81 L596.78,230.86 L600,230.9 L604.47,230.92 L610.13,230.93 L616.29,230.93 L622.29,230.91 L627.42,230.9 L631,230.9" fill="none" stroke="#0000ff" stroke-width="2.08" stroke-dasharray="13.3 3.33 2.08 3.33" stroke-dashoffset="1.13" clip-path="url(#cb)"/>
<path d="M593,230.9 L593,208.6 L594,206.5 L593.9,93.1 L595,92 L595.4,84 L595.9,92 L596.4,97 L596.9,95 L597.3,84 L597.8,95 L598.4,100 L599.1,110.3 L600.1,120.6 L600.7,124 L601.3,129.2 L601.8,125 L602.2,125.8 L602.9,121 L603.6,120.6 L604.4,113.7 L605.3,101.7 L605.9,99 L606.4,94 L606.9,99 L607.3,113.7 L607.8,113 L608.2,110.3 L608.7,116 L609.1,118.9 L609.6,124 L609.9,160 L610,208.5 L610.6,210.5 L610.6,230.9Z" fill="#228b22" fill-opacity="0.25"/>
<path d="M593,230.9 L593,208.6 L594,206.5 L593.9,93.1 L595,92 L595.4,84 L595.9,92 L596.4,97 L596.9,95 L597.3,84 L597.8,95 L598.4,100 L599.1,110.3 L600.1,120.6 L600.7,124 L601.3,129.2 L601.8,125 L602.2,125.8 L602.9,121 L603.6,120.6 L604.4,113.7 L605.3,101.7 L605.9,99 L606.4,94 L606.9,99 L607.3,113.7 L607.8,113 L608.2,110.3 L608.7,116 L609.1,118.9 L609.6,124 L609.9,160 L610,208.5 L610.6,210.5 L610.6,230.9 L609.9,230.9 L607.5,209.1 L607.1,209.5 L604.8,213 L602.2,216.4 L599.5,215.2 L596.45,213.7 L594.9,230.9Z" fill="#228b22" stroke="#228b22" stroke-width="0.4" stroke-linejoin="round"/>
<path d="M594.5,94 V78 M595.5,94 V61.3 M596.4,98 V74 M597.3,97 V55.7 M597.9,97 V70 M606.4,100 V80.2 M605.8,101 V92 M608.3,112 V104" stroke="#228b22" stroke-width="0.9" stroke-opacity="0.85" fill="none"/>
<rect x="405.95" y="38.75" width="224.95" height="192.15" fill="none" stroke="#1a1a1a" stroke-width="2.4"/>
<path d="M405.95,230.9 V226.3" stroke="#1a1a1a" stroke-width="2.4"/>
<text x="405.95" y="251.6" font-size="16.67" text-anchor="middle" fill="#1a1a1a" stroke="#1a1a1a" stroke-width="0.3" font-weight="normal">0</text>
<path d="M468.44,230.9 V226.3" stroke="#1a1a1a" stroke-width="2.4"/>
<text x="468.44" y="251.6" font-size="16.67" text-anchor="middle" fill="#1a1a1a" stroke="#1a1a1a" stroke-width="0.3" font-weight="normal">50</text>
<path d="M530.92,230.9 V226.3" stroke="#1a1a1a" stroke-width="2.4"/>
<text x="530.92" y="251.6" font-size="16.67" text-anchor="middle" fill="#1a1a1a" stroke="#1a1a1a" stroke-width="0.3" font-weight="normal">100</text>
<path d="M593.41,230.9 V226.3" stroke="#1a1a1a" stroke-width="2.4"/>
<text x="593.41" y="251.6" font-size="16.67" text-anchor="middle" fill="#1a1a1a" stroke="#1a1a1a" stroke-width="0.3" font-weight="normal">150</text>
<path d="M405.95,230.9 H410.55" stroke="#1a1a1a" stroke-width="2.4"/>
<text x="398.15" y="236.9" font-size="16.67" text-anchor="end" fill="#1a1a1a" stroke="#1a1a1a" stroke-width="0.3" font-weight="normal">0.0</text>
<path d="M405.95,175.04 H410.55" stroke="#1a1a1a" stroke-width="2.4"/>
<text x="398.15" y="181.04" font-size="16.67" text-anchor="end" fill="#1a1a1a" stroke="#1a1a1a" stroke-width="0.3" font-weight="normal">0.5</text>
<path d="M405.95,119.18 H410.55" stroke="#1a1a1a" stroke-width="2.4"/>
<text x="398.15" y="125.18" font-size="16.67" text-anchor="end" fill="#1a1a1a" stroke="#1a1a1a" stroke-width="0.3" font-weight="normal">1.0</text>
<path d="M405.95,63.33 H410.55" stroke="#1a1a1a" stroke-width="2.4"/>
<text x="398.15" y="69.33" font-size="16.67" text-anchor="end" fill="#1a1a1a" stroke="#1a1a1a" stroke-width="0.3" font-weight="normal">1.5</text>
<path d="M630.9,230.9 H626.3" stroke="#1a1a1a" stroke-width="2.4"/>
<text x="638.5" y="237.7" font-size="16.67" text-anchor="start" fill="#1a1a1a" stroke="#1a1a1a" stroke-width="0.3" font-weight="normal">0.0</text>
<path d="M630.9,190.89 H626.3" stroke="#1a1a1a" stroke-width="2.4"/>
<text x="638.5" y="197.69" font-size="16.67" text-anchor="start" fill="#1a1a1a" stroke="#1a1a1a" stroke-width="0.3" font-weight="normal">0.5</text>
<path d="M630.9,150.87 H626.3" stroke="#1a1a1a" stroke-width="2.4"/>
<text x="638.5" y="157.67" font-size="16.67" text-anchor="start" fill="#1a1a1a" stroke="#1a1a1a" stroke-width="0.3" font-weight="normal">1.0</text>
<path d="M630.9,110.86 H626.3" stroke="#1a1a1a" stroke-width="2.4"/>
<text x="638.5" y="117.66" font-size="16.67" text-anchor="start" fill="#1a1a1a" stroke="#1a1a1a" stroke-width="0.3" font-weight="normal">1.5</text>
<path d="M630.9,70.84 H626.3" stroke="#1a1a1a" stroke-width="2.4"/>
<text x="638.5" y="77.64" font-size="16.67" text-anchor="start" fill="#1a1a1a" stroke="#1a1a1a" stroke-width="0.3" font-weight="normal">2.0</text>
<text x="491.3" y="272" font-size="16.67" text-anchor="start" textLength="54.2" fill="#1a1a1a" stroke="#1a1a1a" stroke-width="0.3">x [<tspan font-style="italic">μ</tspan>m]</text>
<text transform="translate(361.9,206.7) rotate(-90)" font-size="16.67" text-anchor="start" fill="#1a1a1a" stroke="#1a1a1a" stroke-width="0.3">I [×10<tspan dx="-0.3" dy="-5.3" font-size="11.67">17</tspan><tspan dy="5.3"> W cm</tspan><tspan dx="-0.5" dy="-5.3" font-size="11.67">−2</tspan><tspan dx="0.5" dy="5.3">]</tspan></text>
<text transform="translate(683.4,135.3) rotate(-90)" font-size="16.67" text-anchor="middle" fill="#1a1a1a" stroke="#1a1a1a" stroke-width="0.3" font-style="italic">n/n<tspan dx="-0.6" dy="1.4" font-size="11.67">c</tspan></text>
<text x="417.2" y="58.5" font-size="13.9" text-anchor="start" fill="#1a1a1a" stroke="#1a1a1a" stroke-width="0.3" font-weight="bold">b</text>
<text x="462" y="132.8" font-size="13.9" text-anchor="start" fill="#ff0000" stroke="#ff0000" stroke-width="0.3" font-weight="normal">Incident</text>
<path d="M465.9,139.6 L492.5,139.6" stroke="#ff0000" stroke-width="1.05" fill="none"/>
<path d="M497.4,139.6 L490.4,137.3 L490.4,141.9 Z" fill="#ff0000"/>
<text x="507.7" y="74.9" font-size="13.9" text-anchor="start" fill="#0000ff" stroke="#0000ff" stroke-width="0.3" font-weight="normal">Reflected</text>
<path d="M536.4,87 L508.8,87" stroke="#0000ff" stroke-width="1.05" fill="none"/>
<path d="M503.9,87 L510.9,84.7 L510.9,89.3 Z" fill="#0000ff"/>
<clipPath id="cc"><rect x="58.85" y="286.55" width="572.15" height="191.15"/></clipPath>
<path d="M58.85,478.7 L59.99,478.7 L61.14,478.7 L62.28,478.7 L63.43,478.7 L64.57,478.7 L65.71,478.7 L66.86,478.7 L68,478.7 L69.15,478.7 L70.29,478.7 L71.43,478.7 L72.58,478.7 L73.72,478.7 L74.87,478.7 L76.01,478.7 L77.15,478.7 L78.3,478.7 L79.44,478.7 L80.58,478.7 L81.73,478.7 L82.87,478.7 L84.02,478.7 L85.16,478.7 L86.3,478.7 L87.45,478.7 L88.59,478.7 L89.74,478.7 L90.88,478.7 L92.02,478.7 L93.17,478.7 L94.31,478.7 L95.46,478.7 L96.6,478.7 L97.74,478.7 L98.89,478.7 L100.03,478.7 L101.18,478.7 L102.32,478.7 L103.46,478.7 L104.61,478.7 L105.75,478.7 L106.9,478.7 L108.04,478.7 L109.18,478.69 L110.33,478.69 L111.47,478.69 L112.61,478.69 L113.76,478.69 L114.9,478.68 L116.05,478.68 L117.19,478.67 L118.33,478.66 L119.48,478.65 L120.62,478.64 L121.77,478.63 L122.91,478.61 L124.05,478.59 L125.2,478.56 L126.34,478.53 L127.49,478.5 L128.63,478.45 L129.77,478.4 L130.92,478.33 L132.06,478.26 L133.21,478.16 L134.35,478.06 L135.49,477.93 L136.64,477.78 L137.78,477.6 L138.93,477.39 L140.07,477.15 L141.21,476.88 L142.36,476.55 L143.5,476.18 L144.65,475.76 L145.79,475.27 L146.93,474.72 L148.08,474.08 L149.22,473.37 L150.36,472.56 L151.51,471.65 L152.65,470.64 L153.8,469.5 L154.94,468.24 L156.08,466.84 L157.23,465.29 L158.37,463.59 L159.52,461.73 L160.66,459.69 L161.8,457.48 L162.95,455.08 L164.09,452.49 L165.24,449.7 L166.38,446.72 L167.52,443.54 L168.67,440.16 L169.81,436.59 L170.96,432.82 L172.1,428.88 L173.24,424.76 L174.39,420.48 L175.53,416.05 L176.68,411.5 L177.82,406.83 L178.96,402.08 L180.11,397.26 L181.25,392.4 L182.39,387.54 L183.54,382.7 L184.68,377.91 L185.83,373.21 L186.97,368.62 L188.11,364.2 L189.26,359.96 L190.4,355.94 L191.55,352.17 L192.69,348.69 L193.83,345.52 L194.98,342.7 L196.12,340.24 L197.27,338.17 L198.41,336.51 L199.55,335.27 L200.7,334.47 L201.84,334.1 L202.99,334.18 L204.13,334.71 L205.27,335.67 L206.42,337.06 L207.56,338.87 L208.71,341.08 L209.85,343.67 L210.99,346.62 L212.14,349.9 L213.28,353.49 L214.42,357.35 L215.57,361.45 L216.71,365.77 L217.86,370.25 L219,374.88 L220.14,379.62 L221.29,384.43 L222.43,389.28 L223.58,394.15 L224.72,398.99 L225.86,403.79 L227.01,408.52 L228.15,413.15 L229.3,417.66 L230.44,422.03 L231.58,426.26 L232.73,430.32 L233.87,434.2 L235.02,437.89 L236.16,441.4 L237.3,444.7 L238.45,447.81 L239.59,450.73 L240.74,453.44 L241.88,455.96 L243.02,458.29 L244.17,460.44 L245.31,462.42 L246.46,464.22 L247.6,465.87 L248.74,467.36 L249.89,468.71 L251.03,469.92 L252.17,471.02 L253.32,471.99 L254.46,472.86 L255.61,473.64 L256.75,474.32 L257.89,474.92 L259.04,475.45 L260.18,475.92 L261.33,476.32 L262.47,476.68 L263.61,476.98 L264.76,477.25 L265.9,477.47 L267.05,477.67 L268.19,477.83 L269.33,477.98 L270.48,478.1 L271.62,478.2 L272.77,478.28 L273.91,478.36 L275.05,478.42 L276.2,478.47 L277.34,478.51 L278.49,478.55 L279.63,478.57 L280.77,478.6 L281.92,478.62 L283.06,478.63 L284.2,478.65 L285.35,478.66 L286.49,478.67 L287.64,478.67 L288.78,478.68 L289.92,478.68 L291.07,478.69 L292.21,478.69 L293.36,478.69 L294.5,478.69 L295.64,478.69 L296.79,478.7 L297.93,478.7 L299.08,478.7 L300.22,478.7 L301.36,478.7 L302.51,478.7 L303.65,478.7 L304.8,478.7 L305.94,478.7 L307.08,478.7 L308.23,478.7 L309.37,478.7 L310.52,478.7 L311.66,478.7 L312.8,478.7 L313.95,478.7 L315.09,478.7 L316.24,478.7 L317.38,478.7 L318.52,478.7 L319.67,478.7 L320.81,478.7 L321.95,478.7 L323.1,478.7 L324.24,478.7 L325.39,478.7 L326.53,478.7 L327.67,478.7 L328.82,478.7 L329.96,478.7 L331.11,478.7 L332.25,478.7 L333.39,478.7 L334.54,478.7 L335.68,478.7 L336.83,478.7 L337.97,478.7 L339.11,478.7 L340.26,478.7 L341.4,478.7 L342.55,478.7 L343.69,478.7 L344.83,478.7 L345.98,478.7 L347.12,478.7 L348.27,478.7 L349.41,478.7 L350.55,478.7 L351.7,478.7 L352.84,478.7 L353.98,478.7 L355.13,478.7 L356.27,478.7 L357.42,478.7 L358.56,478.7 L359.7,478.7 L360.85,478.7 L361.99,478.7 L363.14,478.7 L364.28,478.7 L365.42,478.7 L366.57,478.7 L367.71,478.7 L368.86,478.7 L370,478.7 L371.14,478.7 L372.29,478.7 L373.43,478.7 L374.58,478.7 L375.72,478.7 L376.86,478.7 L378.01,478.7 L379.15,478.7 L380.3,478.7 L381.44,478.7 L382.58,478.7 L383.73,478.7 L384.87,478.7 L386.01,478.7 L387.16,478.7 L388.3,478.7 L389.45,478.7 L390.59,478.7 L391.73,478.7 L392.88,478.7 L394.02,478.7 L395.17,478.7 L396.31,478.7 L397.45,478.7 L398.6,478.7 L399.74,478.7 L400.89,478.7 L402.03,478.7 L403.17,478.7 L404.32,478.7 L405.46,478.7 L406.61,478.7 L407.75,478.7 L408.89,478.7 L410.04,478.7 L411.18,478.7 L412.33,478.7 L413.47,478.7 L414.61,478.7 L415.76,478.7 L416.9,478.7 L418.05,478.7 L419.19,478.7 L420.33,478.7 L421.48,478.7 L422.62,478.7 L423.76,478.7 L424.91,478.7 L426.05,478.7 L427.2,478.7 L428.34,478.7 L429.48,478.7 L430.63,478.7 L431.77,478.7 L432.92,478.7 L434.06,478.7 L435.2,478.7 L436.35,478.7 L437.49,478.7 L438.64,478.7 L439.78,478.7 L440.92,478.7 L442.07,478.7 L443.21,478.7 L444.36,478.7 L445.5,478.7 L446.64,478.7 L447.79,478.7 L448.93,478.7 L450.08,478.7 L451.22,478.7 L452.36,478.7 L453.51,478.7 L454.65,478.7 L455.79,478.7 L456.94,478.7 L458.08,478.7 L459.23,478.7 L460.37,478.7 L461.51,478.7 L462.66,478.7 L463.8,478.7 L464.95,478.7 L466.09,478.7 L467.23,478.7 L468.38,478.7 L469.52,478.7 L470.67,478.7 L471.81,478.7 L472.95,478.7 L474.1,478.7 L475.24,478.7 L476.39,478.7 L477.53,478.7 L478.67,478.7 L479.82,478.7 L480.96,478.7 L482.11,478.7 L483.25,478.7 L484.39,478.7 L485.54,478.7 L486.68,478.7 L487.83,478.7 L488.97,478.7 L490.11,478.7 L491.26,478.7 L492.4,478.7 L493.54,478.7 L494.69,478.7 L495.83,478.7 L496.98,478.7 L498.12,478.7 L499.26,478.7 L500.41,478.7 L501.55,478.7 L502.7,478.7 L503.84,478.7 L504.98,478.7 L506.13,478.7 L507.27,478.7 L508.42,478.7 L509.56,478.7 L510.7,478.7 L511.85,478.7 L512.99,478.7 L514.14,478.7 L515.28,478.7 L516.42,478.7 L517.57,478.7 L518.71,478.7 L519.86,478.7 L521,478.7 L522.14,478.7 L523.29,478.7 L524.43,478.7 L525.57,478.7 L526.72,478.7 L527.86,478.7 L529.01,478.7 L530.15,478.7 L531.29,478.7 L532.44,478.7 L533.58,478.7 L534.73,478.7 L535.87,478.7 L537.01,478.7 L538.16,478.7 L539.3,478.7 L540.45,478.7 L541.59,478.7 L542.73,478.7 L543.88,478.7 L545.02,478.7 L546.17,478.7 L547.31,478.7 L548.45,478.7 L549.6,478.7 L550.74,478.7 L551.89,478.7 L553.03,478.7 L554.17,478.7 L555.32,478.7 L556.46,478.7 L557.6,478.7 L558.75,478.7 L559.89,478.7 L561.04,478.7 L562.18,478.7 L563.32,478.7 L564.47,478.7 L565.61,478.7 L566.76,478.7 L567.9,478.7 L569.04,478.7 L570.19,478.7 L571.33,478.7 L572.48,478.7 L573.62,478.7 L574.76,478.7 L575.91,478.7 L577.05,478.7 L578.2,478.7 L579.34,478.7 L580.48,478.7 L581.63,478.7 L582.77,478.7 L583.92,478.7 L585.06,478.7 L586.2,478.7 L587.35,478.7 L588.49,478.7 L589.64,478.7 L590.78,478.7 L591.92,478.7 L593.07,478.7 L594.21,478.7 L595.35,478.7 L596.5,478.7 L597.64,478.7 L598.79,478.7 L599.93,478.7 L601.07,478.7 L602.22,478.7 L603.36,478.7 L604.51,478.7 L605.65,478.7 L606.79,478.7 L607.94,478.7 L609.08,478.7 L610.23,478.7 L611.37,478.7 L612.51,478.7 L613.66,478.7 L614.8,478.7 L615.95,478.7 L617.09,478.7 L618.23,478.7 L619.38,478.7 L620.52,478.7 L621.67,478.7 L622.81,478.7 L623.95,478.7 L625.1,478.7 L626.24,478.7 L627.38,478.7 L628.53,478.7 L629.67,478.7 L630.82,478.7 L630.82,478.7 L58.85,478.7Z" fill="#ff0000" fill-opacity="0.25" clip-path="url(#cc)"/>
<path d="M58.85,478.7 L59.99,478.7 L61.14,478.7 L62.28,478.7 L63.43,478.7 L64.57,478.7 L65.71,478.7 L66.86,478.7 L68,478.7 L69.15,478.7 L70.29,478.7 L71.43,478.7 L72.58,478.7 L73.72,478.7 L74.87,478.7 L76.01,478.7 L77.15,478.7 L78.3,478.7 L79.44,478.7 L80.58,478.7 L81.73,478.7 L82.87,478.7 L84.02,478.7 L85.16,478.7 L86.3,478.7 L87.45,478.7 L88.59,478.7 L89.74,478.7 L90.88,478.7 L92.02,478.7 L93.17,478.7 L94.31,478.7 L95.46,478.7 L96.6,478.7 L97.74,478.7 L98.89,478.7 L100.03,478.7 L101.18,478.7 L102.32,478.7 L103.46,478.7 L104.61,478.7 L105.75,478.7 L106.9,478.7 L108.04,478.7 L109.18,478.69 L110.33,478.69 L111.47,478.69 L112.61,478.69 L113.76,478.69 L114.9,478.68 L116.05,478.68 L117.19,478.67 L118.33,478.66 L119.48,478.65 L120.62,478.64 L121.77,478.63 L122.91,478.61 L124.05,478.59 L125.2,478.56 L126.34,478.53 L127.49,478.5 L128.63,478.45 L129.77,478.4 L130.92,478.33 L132.06,478.26 L133.21,478.16 L134.35,478.06 L135.49,477.93 L136.64,477.78 L137.78,477.6 L138.93,477.39 L140.07,477.15 L141.21,476.88 L142.36,476.55 L143.5,476.18 L144.65,475.76 L145.79,475.27 L146.93,474.72 L148.08,474.08 L149.22,473.37 L150.36,472.56 L151.51,471.65 L152.65,470.64 L153.8,469.5 L154.94,468.24 L156.08,466.84 L157.23,465.29 L158.37,463.59 L159.52,461.73 L160.66,459.69 L161.8,457.48 L162.95,455.08 L164.09,452.49 L165.24,449.7 L166.38,446.72 L167.52,443.54 L168.67,440.16 L169.81,436.59 L170.96,432.82 L172.1,428.88 L173.24,424.76 L174.39,420.48 L175.53,416.05 L176.68,411.5 L177.82,406.83 L178.96,402.08 L180.11,397.26 L181.25,392.4 L182.39,387.54 L183.54,382.7 L184.68,377.91 L185.83,373.21 L186.97,368.62 L188.11,364.2 L189.26,359.96 L190.4,355.94 L191.55,352.17 L192.69,348.69 L193.83,345.52 L194.98,342.7 L196.12,340.24 L197.27,338.17 L198.41,336.51 L199.55,335.27 L200.7,334.47 L201.84,334.1 L202.99,334.18 L204.13,334.71 L205.27,335.67 L206.42,337.06 L207.56,338.87 L208.71,341.08 L209.85,343.67 L210.99,346.62 L212.14,349.9 L213.28,353.49 L214.42,357.35 L215.57,361.45 L216.71,365.77 L217.86,370.25 L219,374.88 L220.14,379.62 L221.29,384.43 L222.43,389.28 L223.58,394.15 L224.72,398.99 L225.86,403.79 L227.01,408.52 L228.15,413.15 L229.3,417.66 L230.44,422.03 L231.58,426.26 L232.73,430.32 L233.87,434.2 L235.02,437.89 L236.16,441.4 L237.3,444.7 L238.45,447.81 L239.59,450.73 L240.74,453.44 L241.88,455.96 L243.02,458.29 L244.17,460.44 L245.31,462.42 L246.46,464.22 L247.6,465.87 L248.74,467.36 L249.89,468.71 L251.03,469.92 L252.17,471.02 L253.32,471.99 L254.46,472.86 L255.61,473.64 L256.75,474.32 L257.89,474.92 L259.04,475.45 L260.18,475.92 L261.33,476.32 L262.47,476.68 L263.61,476.98 L264.76,477.25 L265.9,477.47 L267.05,477.67 L268.19,477.83 L269.33,477.98 L270.48,478.1 L271.62,478.2 L272.77,478.28 L273.91,478.36 L275.05,478.42 L276.2,478.47 L277.34,478.51 L278.49,478.55 L279.63,478.57 L280.77,478.6 L281.92,478.62 L283.06,478.63 L284.2,478.65 L285.35,478.66 L286.49,478.67 L287.64,478.67 L288.78,478.68 L289.92,478.68 L291.07,478.69 L292.21,478.69 L293.36,478.69 L294.5,478.69 L295.64,478.69 L296.79,478.7 L297.93,478.7 L299.08,478.7 L300.22,478.7 L301.36,478.7 L302.51,478.7 L303.65,478.7 L304.8,478.7 L305.94,478.7 L307.08,478.7 L308.23,478.7 L309.37,478.7 L310.52,478.7 L311.66,478.7 L312.8,478.7 L313.95,478.7 L315.09,478.7 L316.24,478.7 L317.38,478.7 L318.52,478.7 L319.67,478.7 L320.81,478.7 L321.95,478.7 L323.1,478.7 L324.24,478.7 L325.39,478.7 L326.53,478.7 L327.67,478.7 L328.82,478.7 L329.96,478.7 L331.11,478.7 L332.25,478.7 L333.39,478.7 L334.54,478.7 L335.68,478.7 L336.83,478.7 L337.97,478.7 L339.11,478.7 L340.26,478.7 L341.4,478.7 L342.55,478.7 L343.69,478.7 L344.83,478.7 L345.98,478.7 L347.12,478.7 L348.27,478.7 L349.41,478.7 L350.55,478.7 L351.7,478.7 L352.84,478.7 L353.98,478.7 L355.13,478.7 L356.27,478.7 L357.42,478.7 L358.56,478.7 L359.7,478.7 L360.85,478.7 L361.99,478.7 L363.14,478.7 L364.28,478.7 L365.42,478.7 L366.57,478.7 L367.71,478.7 L368.86,478.7 L370,478.7 L371.14,478.7 L372.29,478.7 L373.43,478.7 L374.58,478.7 L375.72,478.7 L376.86,478.7 L378.01,478.7 L379.15,478.7 L380.3,478.7 L381.44,478.7 L382.58,478.7 L383.73,478.7 L384.87,478.7 L386.01,478.7 L387.16,478.7 L388.3,478.7 L389.45,478.7 L390.59,478.7 L391.73,478.7 L392.88,478.7 L394.02,478.7 L395.17,478.7 L396.31,478.7 L397.45,478.7 L398.6,478.7 L399.74,478.7 L400.89,478.7 L402.03,478.7 L403.17,478.7 L404.32,478.7 L405.46,478.7 L406.61,478.7 L407.75,478.7 L408.89,478.7 L410.04,478.7 L411.18,478.7 L412.33,478.7 L413.47,478.7 L414.61,478.7 L415.76,478.7 L416.9,478.7 L418.05,478.7 L419.19,478.7 L420.33,478.7 L421.48,478.7 L422.62,478.7 L423.76,478.7 L424.91,478.7 L426.05,478.7 L427.2,478.7 L428.34,478.7 L429.48,478.7 L430.63,478.7 L431.77,478.7 L432.92,478.7 L434.06,478.7 L435.2,478.7 L436.35,478.7 L437.49,478.7 L438.64,478.7 L439.78,478.7 L440.92,478.7 L442.07,478.7 L443.21,478.7 L444.36,478.7 L445.5,478.7 L446.64,478.7 L447.79,478.7 L448.93,478.7 L450.08,478.7 L451.22,478.7 L452.36,478.7 L453.51,478.7 L454.65,478.7 L455.79,478.7 L456.94,478.7 L458.08,478.7 L459.23,478.7 L460.37,478.7 L461.51,478.7 L462.66,478.7 L463.8,478.7 L464.95,478.7 L466.09,478.7 L467.23,478.7 L468.38,478.7 L469.52,478.7 L470.67,478.7 L471.81,478.7 L472.95,478.7 L474.1,478.7 L475.24,478.7 L476.39,478.7 L477.53,478.7 L478.67,478.7 L479.82,478.7 L480.96,478.7 L482.11,478.7 L483.25,478.7 L484.39,478.7 L485.54,478.7 L486.68,478.7 L487.83,478.7 L488.97,478.7 L490.11,478.7 L491.26,478.7 L492.4,478.7 L493.54,478.7 L494.69,478.7 L495.83,478.7 L496.98,478.7 L498.12,478.7 L499.26,478.7 L500.41,478.7 L501.55,478.7 L502.7,478.7 L503.84,478.7 L504.98,478.7 L506.13,478.7 L507.27,478.7 L508.42,478.7 L509.56,478.7 L510.7,478.7 L511.85,478.7 L512.99,478.7 L514.14,478.7 L515.28,478.7 L516.42,478.7 L517.57,478.7 L518.71,478.7 L519.86,478.7 L521,478.7 L522.14,478.7 L523.29,478.7 L524.43,478.7 L525.57,478.7 L526.72,478.7 L527.86,478.7 L529.01,478.7 L530.15,478.7 L531.29,478.7 L532.44,478.7 L533.58,478.7 L534.73,478.7 L535.87,478.7 L537.01,478.7 L538.16,478.7 L539.3,478.7 L540.45,478.7 L541.59,478.7 L542.73,478.7 L543.88,478.7 L545.02,478.7 L546.17,478.7 L547.31,478.7 L548.45,478.7 L549.6,478.7 L550.74,478.7 L551.89,478.7 L553.03,478.7 L554.17,478.7 L555.32,478.7 L556.46,478.7 L557.6,478.7 L558.75,478.7 L559.89,478.7 L561.04,478.7 L562.18,478.7 L563.32,478.7 L564.47,478.7 L565.61,478.7 L566.76,478.7 L567.9,478.7 L569.04,478.7 L570.19,478.7 L571.33,478.7 L572.48,478.7 L573.62,478.7 L574.76,478.7 L575.91,478.7 L577.05,478.7 L578.2,478.7 L579.34,478.7 L580.48,478.7 L581.63,478.7 L582.77,478.7 L583.92,478.7 L585.06,478.7 L586.2,478.7 L587.35,478.7 L588.49,478.7 L589.64,478.7 L590.78,478.7 L591.92,478.7 L593.07,478.7 L594.21,478.7 L595.35,478.7 L596.5,478.7 L597.64,478.7 L598.79,478.7 L599.93,478.7 L601.07,478.7 L602.22,478.7 L603.36,478.7 L604.51,478.7 L605.65,478.7 L606.79,478.7 L607.94,478.7 L609.08,478.7 L610.23,478.7 L611.37,478.7 L612.51,478.7 L613.66,478.7 L614.8,478.7 L615.95,478.7 L617.09,478.7 L618.23,478.7 L619.38,478.7 L620.52,478.7 L621.67,478.7 L622.81,478.7 L623.95,478.7 L625.1,478.7 L626.24,478.7 L627.38,478.7 L628.53,478.7 L629.67,478.7 L630.82,478.7" fill="none" stroke="#ff0000" stroke-width="2.08" stroke-dasharray="7.8 3.5" stroke-dashoffset="8.29" clip-path="url(#cc)"/>
<path d="M58.85,478.7 L59.83,478.7 L60.81,478.7 L61.78,478.7 L62.76,478.7 L63.74,478.7 L64.72,478.7 L65.69,478.7 L66.67,478.7 L67.65,478.7 L68.63,478.7 L69.6,478.7 L70.58,478.7 L71.56,478.7 L72.54,478.7 L73.52,478.7 L74.49,478.7 L75.47,478.7 L76.45,478.7 L77.43,478.7 L78.4,478.7 L79.38,478.7 L80.36,478.7 L81.34,478.7 L82.32,478.7 L83.29,478.7 L84.27,478.7 L85.25,478.7 L86.23,478.7 L87.2,478.7 L88.18,478.7 L89.16,478.7 L90.14,478.7 L91.11,478.7 L92.09,478.7 L93.07,478.7 L94.05,478.7 L95.03,478.7 L96,478.7 L96.98,478.7 L97.96,478.7 L98.94,478.7 L99.91,478.7 L100.89,478.7 L101.87,478.7 L102.85,478.7 L103.83,478.7 L104.8,478.7 L105.78,478.7 L106.76,478.7 L107.74,478.7 L108.71,478.7 L109.69,478.7 L110.67,478.7 L111.65,478.7 L112.62,478.7 L113.6,478.7 L114.58,478.7 L115.56,478.7 L116.54,478.7 L117.51,478.7 L118.49,478.7 L119.47,478.7 L120.45,478.7 L121.42,478.7 L122.4,478.7 L123.38,478.7 L124.36,478.69 L125.34,478.69 L126.31,478.69 L127.29,478.69 L128.27,478.69 L129.25,478.68 L130.22,478.68 L131.2,478.67 L132.18,478.67 L133.16,478.66 L134.13,478.65 L135.11,478.64 L136.09,478.62 L137.07,478.61 L138.05,478.59 L139.02,478.56 L140,478.53 L140.98,478.5 L141.96,478.46 L142.93,478.41 L143.91,478.35 L144.89,478.28 L145.87,478.2 L146.84,478.11 L147.82,478 L148.8,477.88 L149.78,477.73 L150.76,477.57 L151.73,477.38 L152.71,477.16 L153.69,476.9 L154.67,476.62 L155.64,476.29 L156.62,475.93 L157.6,475.51 L158.58,475.05 L159.56,474.53 L160.53,473.95 L161.51,473.31 L162.49,472.6 L163.47,471.81 L164.44,470.95 L165.42,470.01 L166.4,468.97 L167.38,467.85 L168.35,466.64 L169.33,465.32 L170.31,463.91 L171.29,462.4 L172.27,460.78 L173.24,459.07 L174.22,457.25 L175.2,455.34 L176.18,453.33 L177.15,451.22 L178.13,449.04 L179.11,446.77 L180.09,444.43 L181.07,442.03 L182.04,439.57 L183.02,437.08 L184,434.55 L184.98,432.01 L185.95,429.48 L186.93,426.95 L187.91,424.46 L188.89,422.02 L189.86,419.64 L190.84,417.35 L191.82,415.15 L192.8,413.07 L193.78,411.12 L194.75,409.32 L195.73,407.68 L196.71,406.22 L197.69,404.95 L198.66,403.88 L199.64,403.02 L200.62,402.37 L201.6,401.94 L202.57,401.74 L203.55,401.77 L204.53,402.03 L205.51,402.51 L206.49,403.21 L207.46,404.13 L208.44,405.25 L209.42,406.57 L210.4,408.08 L211.37,409.76 L212.35,411.6 L213.33,413.58 L214.31,415.69 L215.29,417.91 L216.26,420.23 L217.24,422.62 L218.22,425.08 L219.2,427.58 L220.17,430.11 L221.15,432.65 L222.13,435.19 L223.11,437.7 L224.08,440.19 L225.06,442.63 L226.04,445.02 L227.02,447.34 L228,449.59 L228.97,451.76 L229.95,453.84 L230.93,455.83 L231.91,457.72 L232.88,459.51 L233.86,461.2 L234.84,462.79 L235.82,464.27 L236.8,465.66 L237.77,466.95 L238.75,468.14 L239.73,469.24 L240.71,470.25 L241.68,471.17 L242.66,472.02 L243.64,472.78 L244.62,473.48 L245.59,474.1 L246.57,474.67 L247.55,475.17 L248.53,475.62 L249.51,476.02 L250.48,476.38 L251.46,476.69 L252.44,476.97 L253.42,477.21 L254.39,477.43 L255.37,477.61 L256.35,477.77 L257.33,477.91 L258.31,478.03 L259.28,478.14 L260.26,478.23 L261.24,478.3 L262.22,478.37 L263.19,478.42 L264.17,478.47 L265.15,478.51 L266.13,478.54 L267.1,478.57 L268.08,478.59 L269.06,478.61 L270.04,478.63 L271.02,478.64 L271.99,478.65 L272.97,478.66 L273.95,478.67 L274.93,478.67 L275.9,478.68 L276.88,478.68 L277.86,478.69 L278.84,478.69 L279.81,478.69 L280.79,478.69 L281.77,478.69 L282.75,478.7 L283.73,478.7 L284.7,478.7 L285.68,478.7 L286.66,478.7 L287.64,478.7 L288.61,478.7 L289.59,478.7 L290.57,478.7 L291.55,478.7 L292.53,478.7 L293.5,478.7 L294.48,478.7 L295.46,478.7 L296.44,478.7 L297.41,478.7 L298.39,478.7 L299.37,478.7 L300.35,478.7 L301.32,478.7 L302.3,478.7 L303.28,478.7 L304.26,478.7 L305.24,478.7 L306.21,478.7 L307.19,478.7 L308.17,478.7 L309.15,478.7 L310.12,478.7 L311.1,478.7 L312.08,478.7 L313.06,478.7 L314.04,478.7 L315.01,478.7 L315.99,478.7 L316.97,478.7 L317.95,478.7 L318.92,478.7 L319.9,478.7 L320.88,478.7 L321.86,478.7 L322.83,478.7 L323.81,478.7 L324.79,478.7 L325.77,478.7 L326.75,478.7 L327.72,478.7 L328.7,478.7 L329.68,478.7 L330.66,478.7 L331.63,478.7 L332.61,478.7 L333.59,478.7 L334.57,478.7 L335.54,478.7 L336.52,478.7 L337.5,478.7 L338.48,478.7 L339.46,478.7 L340.43,478.7 L341.41,478.7 L342.39,478.7 L343.37,478.7 L344.34,478.7 L345.32,478.7 L346.3,478.7 L347.28,478.7 L348.26,478.7 L349.23,478.7 L350.21,478.7 L351.19,478.7 L352.17,478.7 L352.17,478.7 L58.85,478.7Z" fill="#0000ff" fill-opacity="0.25" clip-path="url(#cc)"/>
<path d="M58.85,478.7 L59.83,478.7 L60.81,478.7 L61.78,478.7 L62.76,478.7 L63.74,478.7 L64.72,478.7 L65.69,478.7 L66.67,478.7 L67.65,478.7 L68.63,478.7 L69.6,478.7 L70.58,478.7 L71.56,478.7 L72.54,478.7 L73.52,478.7 L74.49,478.7 L75.47,478.7 L76.45,478.7 L77.43,478.7 L78.4,478.7 L79.38,478.7 L80.36,478.7 L81.34,478.7 L82.32,478.7 L83.29,478.7 L84.27,478.7 L85.25,478.7 L86.23,478.7 L87.2,478.7 L88.18,478.7 L89.16,478.7 L90.14,478.7 L91.11,478.7 L92.09,478.7 L93.07,478.7 L94.05,478.7 L95.03,478.7 L96,478.7 L96.98,478.7 L97.96,478.7 L98.94,478.7 L99.91,478.7 L100.89,478.7 L101.87,478.7 L102.85,478.7 L103.83,478.7 L104.8,478.7 L105.78,478.7 L106.76,478.7 L107.74,478.7 L108.71,478.7 L109.69,478.7 L110.67,478.7 L111.65,478.7 L112.62,478.7 L113.6,478.7 L114.58,478.7 L115.56,478.7 L116.54,478.7 L117.51,478.7 L118.49,478.7 L119.47,478.7 L120.45,478.7 L121.42,478.7 L122.4,478.7 L123.38,478.7 L124.36,478.69 L125.34,478.69 L126.31,478.69 L127.29,478.69 L128.27,478.69 L129.25,478.68 L130.22,478.68 L131.2,478.67 L132.18,478.67 L133.16,478.66 L134.13,478.65 L135.11,478.64 L136.09,478.62 L137.07,478.61 L138.05,478.59 L139.02,478.56 L140,478.53 L140.98,478.5 L141.96,478.46 L142.93,478.41 L143.91,478.35 L144.89,478.28 L145.87,478.2 L146.84,478.11 L147.82,478 L148.8,477.88 L149.78,477.73 L150.76,477.57 L151.73,477.38 L152.71,477.16 L153.69,476.9 L154.67,476.62 L155.64,476.29 L156.62,475.93 L157.6,475.51 L158.58,475.05 L159.56,474.53 L160.53,473.95 L161.51,473.31 L162.49,472.6 L163.47,471.81 L164.44,470.95 L165.42,470.01 L166.4,468.97 L167.38,467.85 L168.35,466.64 L169.33,465.32 L170.31,463.91 L171.29,462.4 L172.27,460.78 L173.24,459.07 L174.22,457.25 L175.2,455.34 L176.18,453.33 L177.15,451.22 L178.13,449.04 L179.11,446.77 L180.09,444.43 L181.07,442.03 L182.04,439.57 L183.02,437.08 L184,434.55 L184.98,432.01 L185.95,429.48 L186.93,426.95 L187.91,424.46 L188.89,422.02 L189.86,419.64 L190.84,417.35 L191.82,415.15 L192.8,413.07 L193.78,411.12 L194.75,409.32 L195.73,407.68 L196.71,406.22 L197.69,404.95 L198.66,403.88 L199.64,403.02 L200.62,402.37 L201.6,401.94 L202.57,401.74 L203.55,401.77 L204.53,402.03 L205.51,402.51 L206.49,403.21 L207.46,404.13 L208.44,405.25 L209.42,406.57 L210.4,408.08 L211.37,409.76 L212.35,411.6 L213.33,413.58 L214.31,415.69 L215.29,417.91 L216.26,420.23 L217.24,422.62 L218.22,425.08 L219.2,427.58 L220.17,430.11 L221.15,432.65 L222.13,435.19 L223.11,437.7 L224.08,440.19 L225.06,442.63 L226.04,445.02 L227.02,447.34 L228,449.59 L228.97,451.76 L229.95,453.84 L230.93,455.83 L231.91,457.72 L232.88,459.51 L233.86,461.2 L234.84,462.79 L235.82,464.27 L236.8,465.66 L237.77,466.95 L238.75,468.14 L239.73,469.24 L240.71,470.25 L241.68,471.17 L242.66,472.02 L243.64,472.78 L244.62,473.48 L245.59,474.1 L246.57,474.67 L247.55,475.17 L248.53,475.62 L249.51,476.02 L250.48,476.38 L251.46,476.69 L252.44,476.97 L253.42,477.21 L254.39,477.43 L255.37,477.61 L256.35,477.77 L257.33,477.91 L258.31,478.03 L259.28,478.14 L260.26,478.23 L261.24,478.3 L262.22,478.37 L263.19,478.42 L264.17,478.47 L265.15,478.51 L266.13,478.54 L267.1,478.57 L268.08,478.59 L269.06,478.61 L270.04,478.63 L271.02,478.64 L271.99,478.65 L272.97,478.66 L273.95,478.67 L274.93,478.67 L275.9,478.68 L276.88,478.68 L277.86,478.69 L278.84,478.69 L279.81,478.69 L280.79,478.69 L281.77,478.69 L282.75,478.7 L283.73,478.7 L284.7,478.7 L285.68,478.7 L286.66,478.7 L287.64,478.7 L288.61,478.7 L289.59,478.7 L290.57,478.7 L291.55,478.7 L292.53,478.7 L293.5,478.7 L294.48,478.7 L295.46,478.7 L296.44,478.7 L297.41,478.7 L298.39,478.7 L299.37,478.7 L300.35,478.7 L301.32,478.7 L302.3,478.7 L303.28,478.7 L304.26,478.7 L305.24,478.7 L306.21,478.7 L307.19,478.7 L308.17,478.7 L309.15,478.7 L310.12,478.7 L311.1,478.7 L312.08,478.7 L313.06,478.7 L314.04,478.7 L315.01,478.7 L315.99,478.7 L316.97,478.7 L317.95,478.7 L318.92,478.7 L319.9,478.7 L320.88,478.7 L321.86,478.7 L322.83,478.7 L323.81,478.7 L324.79,478.7 L325.77,478.7 L326.75,478.7 L327.72,478.7 L328.7,478.7 L329.68,478.7 L330.66,478.7 L331.63,478.7 L332.61,478.7 L333.59,478.7 L334.57,478.7 L335.54,478.7 L336.52,478.7 L337.5,478.7 L338.48,478.7 L339.46,478.7 L340.43,478.7 L341.41,478.7 L342.39,478.7 L343.37,478.7 L344.34,478.7 L345.32,478.7 L346.3,478.7 L347.28,478.7 L348.26,478.7 L349.23,478.7 L350.21,478.7 L351.19,478.7 L352.17,478.7" fill="none" stroke="#0000ff" stroke-width="2.08" stroke-dasharray="13.3 3.33 2.08 3.33" stroke-dashoffset="21.42" clip-path="url(#cc)"/>
<path d="M352.17,478.7 L353.1,478.7 L354.02,478.7 L354.95,478.7 L355.88,478.7 L356.81,478.7 L357.74,478.7 L358.67,478.7 L359.6,478.7 L360.53,478.7 L361.45,478.7 L362.38,478.7 L363.31,478.7 L364.24,478.7 L365.17,478.7 L366.1,478.7 L367.03,478.7 L367.96,478.7 L368.89,478.7 L369.81,478.7 L370.74,478.7 L371.67,478.7 L372.6,478.7 L373.53,478.7 L374.46,478.7 L375.39,478.7 L376.32,478.7 L377.24,478.7 L378.17,478.7 L379.1,478.7 L380.03,478.7 L380.96,478.7 L381.89,478.7 L382.82,478.7 L383.75,478.7 L384.68,478.7 L385.6,478.7 L386.53,478.7 L387.46,478.7 L388.39,478.7 L389.32,478.7 L390.25,478.7 L391.18,478.7 L392.11,478.7 L393.03,478.7 L393.96,478.7 L394.89,478.7 L395.82,478.7 L396.75,478.7 L397.68,478.7 L398.61,478.7 L399.54,478.7 L400.47,478.7 L401.39,478.7 L402.32,478.7 L403.25,478.7 L404.18,478.7 L405.11,478.7 L406.04,478.7 L406.97,478.7 L407.9,478.7 L408.83,478.7 L409.75,478.7 L410.68,478.7 L411.61,478.7 L412.54,478.7 L413.47,478.7 L414.4,478.7 L415.33,478.7 L416.26,478.7 L417.18,478.7 L418.11,478.7 L419.04,478.7 L419.97,478.69 L420.9,478.69 L421.83,478.69 L422.76,478.69 L423.69,478.69 L424.62,478.68 L425.54,478.68 L426.47,478.67 L427.4,478.67 L428.33,478.66 L429.26,478.65 L430.19,478.64 L431.12,478.63 L432.05,478.61 L432.97,478.59 L433.9,478.57 L434.83,478.54 L435.76,478.51 L436.69,478.47 L437.62,478.43 L438.55,478.38 L439.48,478.31 L440.41,478.24 L441.33,478.15 L442.26,478.06 L443.19,477.94 L444.12,477.81 L445.05,477.65 L445.98,477.48 L446.91,477.27 L447.84,477.04 L448.77,476.78 L449.69,476.48 L450.62,476.14 L451.55,475.76 L452.48,475.33 L453.41,474.85 L454.34,474.31 L455.27,473.71 L456.2,473.05 L457.12,472.31 L458.05,471.5 L458.98,470.61 L459.91,469.64 L460.84,468.57 L461.77,467.42 L462.7,466.16 L463.63,464.81 L464.56,463.35 L465.48,461.79 L466.41,460.12 L467.34,458.35 L468.27,456.47 L469.2,454.48 L470.13,452.39 L471.06,450.2 L471.99,447.91 L472.91,445.53 L473.84,443.07 L474.77,440.54 L475.7,437.93 L476.63,435.28 L477.56,432.58 L478.49,429.85 L479.42,427.11 L480.35,424.36 L481.27,421.63 L482.2,418.93 L483.13,416.28 L484.06,413.69 L484.99,411.19 L485.92,408.79 L486.85,406.5 L487.78,404.36 L488.7,402.36 L489.63,400.53 L490.56,398.88 L491.49,397.42 L492.42,396.17 L493.35,395.14 L494.28,394.33 L495.21,393.75 L496.14,393.41 L497.06,393.31 L497.99,393.45 L498.92,393.83 L499.85,394.44 L500.78,395.29 L501.71,396.35 L502.64,397.64 L503.57,399.12 L504.5,400.8 L505.42,402.66 L506.35,404.69 L507.28,406.86 L508.21,409.16 L509.14,411.58 L510.07,414.1 L511,416.69 L511.93,419.35 L512.85,422.06 L513.78,424.79 L514.71,427.54 L515.64,430.28 L516.57,433.01 L517.5,435.7 L518.43,438.35 L519.36,440.94 L520.29,443.46 L521.21,445.91 L522.14,448.28 L523.07,450.55 L524,452.72 L524.93,454.8 L525.86,456.77 L526.79,458.64 L527.72,460.39 L528.64,462.04 L529.57,463.59 L530.5,465.03 L531.43,466.37 L532.36,467.6 L533.29,468.75 L534.22,469.8 L535.15,470.76 L536.08,471.63 L537,472.43 L537.93,473.16 L538.86,473.81 L539.79,474.4 L540.72,474.93 L541.65,475.4 L542.58,475.82 L543.51,476.2 L544.44,476.53 L545.36,476.82 L546.29,477.08 L547.22,477.31 L548.15,477.51 L549.08,477.68 L550.01,477.83 L550.94,477.96 L551.87,478.07 L552.79,478.17 L553.72,478.25 L554.65,478.32 L555.58,478.38 L556.51,478.44 L557.44,478.48 L558.37,478.52 L559.3,478.55 L560.23,478.57 L561.15,478.6 L562.08,478.61 L563.01,478.63 L563.94,478.64 L564.87,478.65 L565.8,478.66 L566.73,478.67 L567.66,478.68 L568.58,478.68 L569.51,478.68 L570.44,478.69 L571.37,478.69 L572.3,478.69 L573.23,478.69 L574.16,478.69 L575.09,478.7 L576.02,478.7 L576.94,478.7 L577.87,478.7 L578.8,478.7 L579.73,478.7 L580.66,478.7 L581.59,478.7 L582.52,478.7 L583.45,478.7 L584.37,478.7 L585.3,478.7 L586.23,478.7 L587.16,478.7 L588.09,478.7 L589.02,478.7 L589.95,478.7 L590.88,478.7 L591.81,478.7 L592.73,478.7 L593.66,478.7 L594.59,478.7 L595.52,478.7 L596.45,478.7 L597.38,478.7 L598.31,478.7 L599.24,478.7 L600.17,478.7 L601.09,478.7 L602.02,478.7 L602.95,478.7 L603.88,478.7 L604.81,478.7 L605.74,478.7 L606.67,478.7 L607.6,478.7 L608.52,478.7 L609.45,478.7 L610.38,478.7 L611.31,478.7 L612.24,478.7 L613.17,478.7 L614.1,478.7 L615.03,478.7 L615.96,478.7 L616.88,478.7 L617.81,478.7 L618.74,478.7 L619.67,478.7 L620.6,478.7 L621.53,478.7 L622.46,478.7 L623.39,478.7 L624.31,478.7 L625.24,478.7 L626.17,478.7 L627.1,478.7 L628.03,478.7 L628.96,478.7 L629.89,478.7 L630.82,478.7 L630.82,478.7 L352.17,478.7Z" fill="#0000ff" fill-opacity="0.25" clip-path="url(#cc)"/>
<path d="M352.17,478.7 L353.1,478.7 L354.02,478.7 L354.95,478.7 L355.88,478.7 L356.81,478.7 L357.74,478.7 L358.67,478.7 L359.6,478.7 L360.53,478.7 L361.45,478.7 L362.38,478.7 L363.31,478.7 L364.24,478.7 L365.17,478.7 L366.1,478.7 L367.03,478.7 L367.96,478.7 L368.89,478.7 L369.81,478.7 L370.74,478.7 L371.67,478.7 L372.6,478.7 L373.53,478.7 L374.46,478.7 L375.39,478.7 L376.32,478.7 L377.24,478.7 L378.17,478.7 L379.1,478.7 L380.03,478.7 L380.96,478.7 L381.89,478.7 L382.82,478.7 L383.75,478.7 L384.68,478.7 L385.6,478.7 L386.53,478.7 L387.46,478.7 L388.39,478.7 L389.32,478.7 L390.25,478.7 L391.18,478.7 L392.11,478.7 L393.03,478.7 L393.96,478.7 L394.89,478.7 L395.82,478.7 L396.75,478.7 L397.68,478.7 L398.61,478.7 L399.54,478.7 L400.47,478.7 L401.39,478.7 L402.32,478.7 L403.25,478.7 L404.18,478.7 L405.11,478.7 L406.04,478.7 L406.97,478.7 L407.9,478.7 L408.83,478.7 L409.75,478.7 L410.68,478.7 L411.61,478.7 L412.54,478.7 L413.47,478.7 L414.4,478.7 L415.33,478.7 L416.26,478.7 L417.18,478.7 L418.11,478.7 L419.04,478.7 L419.97,478.69 L420.9,478.69 L421.83,478.69 L422.76,478.69 L423.69,478.69 L424.62,478.68 L425.54,478.68 L426.47,478.67 L427.4,478.67 L428.33,478.66 L429.26,478.65 L430.19,478.64 L431.12,478.63 L432.05,478.61 L432.97,478.59 L433.9,478.57 L434.83,478.54 L435.76,478.51 L436.69,478.47 L437.62,478.43 L438.55,478.38 L439.48,478.31 L440.41,478.24 L441.33,478.15 L442.26,478.06 L443.19,477.94 L444.12,477.81 L445.05,477.65 L445.98,477.48 L446.91,477.27 L447.84,477.04 L448.77,476.78 L449.69,476.48 L450.62,476.14 L451.55,475.76 L452.48,475.33 L453.41,474.85 L454.34,474.31 L455.27,473.71 L456.2,473.05 L457.12,472.31 L458.05,471.5 L458.98,470.61 L459.91,469.64 L460.84,468.57 L461.77,467.42 L462.7,466.16 L463.63,464.81 L464.56,463.35 L465.48,461.79 L466.41,460.12 L467.34,458.35 L468.27,456.47 L469.2,454.48 L470.13,452.39 L471.06,450.2 L471.99,447.91 L472.91,445.53 L473.84,443.07 L474.77,440.54 L475.7,437.93 L476.63,435.28 L477.56,432.58 L478.49,429.85 L479.42,427.11 L480.35,424.36 L481.27,421.63 L482.2,418.93 L483.13,416.28 L484.06,413.69 L484.99,411.19 L485.92,408.79 L486.85,406.5 L487.78,404.36 L488.7,402.36 L489.63,400.53 L490.56,398.88 L491.49,397.42 L492.42,396.17 L493.35,395.14 L494.28,394.33 L495.21,393.75 L496.14,393.41 L497.06,393.31 L497.99,393.45 L498.92,393.83 L499.85,394.44 L500.78,395.29 L501.71,396.35 L502.64,397.64 L503.57,399.12 L504.5,400.8 L505.42,402.66 L506.35,404.69 L507.28,406.86 L508.21,409.16 L509.14,411.58 L510.07,414.1 L511,416.69 L511.93,419.35 L512.85,422.06 L513.78,424.79 L514.71,427.54 L515.64,430.28 L516.57,433.01 L517.5,435.7 L518.43,438.35 L519.36,440.94 L520.29,443.46 L521.21,445.91 L522.14,448.28 L523.07,450.55 L524,452.72 L524.93,454.8 L525.86,456.77 L526.79,458.64 L527.72,460.39 L528.64,462.04 L529.57,463.59 L530.5,465.03 L531.43,466.37 L532.36,467.6 L533.29,468.75 L534.22,469.8 L535.15,470.76 L536.08,471.63 L537,472.43 L537.93,473.16 L538.86,473.81 L539.79,474.4 L540.72,474.93 L541.65,475.4 L542.58,475.82 L543.51,476.2 L544.44,476.53 L545.36,476.82 L546.29,477.08 L547.22,477.31 L548.15,477.51 L549.08,477.68 L550.01,477.83 L550.94,477.96 L551.87,478.07 L552.79,478.17 L553.72,478.25 L554.65,478.32 L555.58,478.38 L556.51,478.44 L557.44,478.48 L558.37,478.52 L559.3,478.55 L560.23,478.57 L561.15,478.6 L562.08,478.61 L563.01,478.63 L563.94,478.64 L564.87,478.65 L565.8,478.66 L566.73,478.67 L567.66,478.68 L568.58,478.68 L569.51,478.68 L570.44,478.69 L571.37,478.69 L572.3,478.69 L573.23,478.69 L574.16,478.69 L575.09,478.7 L576.02,478.7 L576.94,478.7 L577.87,478.7 L578.8,478.7 L579.73,478.7 L580.66,478.7 L581.59,478.7 L582.52,478.7 L583.45,478.7 L584.37,478.7 L585.3,478.7 L586.23,478.7 L587.16,478.7 L588.09,478.7 L589.02,478.7 L589.95,478.7 L590.88,478.7 L591.81,478.7 L592.73,478.7 L593.66,478.7 L594.59,478.7 L595.52,478.7 L596.45,478.7 L597.38,478.7 L598.31,478.7 L599.24,478.7 L600.17,478.7 L601.09,478.7 L602.02,478.7 L602.95,478.7 L603.88,478.7 L604.81,478.7 L605.74,478.7 L606.67,478.7 L607.6,478.7 L608.52,478.7 L609.45,478.7 L610.38,478.7 L611.31,478.7 L612.24,478.7 L613.17,478.7 L614.1,478.7 L615.03,478.7 L615.96,478.7 L616.88,478.7 L617.81,478.7 L618.74,478.7 L619.67,478.7 L620.6,478.7 L621.53,478.7 L622.46,478.7 L623.39,478.7 L624.31,478.7 L625.24,478.7 L626.17,478.7 L627.1,478.7 L628.03,478.7 L628.96,478.7 L629.89,478.7 L630.82,478.7" fill="none" stroke="#0000ff" stroke-width="2.08" stroke-dasharray="13.3 3.33 2.08 3.33" stroke-dashoffset="9.81" clip-path="url(#cc)"/>
<path d="M334.1,478.7 L335.7,385 L336,356 L336.2,309 L336.6,306 L353.2,306 L353.7,309 L353.9,356 L354.1,385 L355.6,478.7Z" fill="#228b22" fill-opacity="0.25"/>
<rect x="336.1" y="306.2" width="17.6" height="48.6" fill="#228b22"/>
<path d="M336.2,306.8 V356.61 M336.8,305.88 V356.75 M337.4,305.21 V355.46 M338,303.13 V357.31 M338.6,303.64 V355.86 M339.2,305.19 V356.43 M339.8,304.86 V356.44 M340.4,304.44 V355.66 M341,304.43 V357.38 M341.6,304.2 V357.08 M342.2,304.51 V355.45 M342.8,304.69 V356.72 M343.4,303.73 V355.37 M344,304.92 V356.43 M344.6,304.61 V357.41 M345.2,304.6 V357.51 M345.8,303.93 V357.22 M346.4,304.03 V357.55 M347,304.95 V355.53 M347.6,303.39 V355.82 M348.2,305.13 V356.35 M348.8,304.42 V356.02 M349.4,304.17 V356.23 M350,303.84 V356.7 M350.6,304.33 V357.47 M351.2,304.53 V357.53 M351.8,304.9 V357.68 M352.4,305.31 V355.69 M353,306.91 V357.62 M353.6,308.2 V356.67" stroke="#228b22" stroke-width="0.9" fill="none"/>
<path d="M334.1,478.7 L335.7,385 L336,356 L336.2,309" fill="none" stroke="#228b22" stroke-width="0.8" stroke-opacity="0.85"/>
<path d="M353.7,309 L353.9,356 L354.1,385 L355.6,478.7" fill="none" stroke="#228b22" stroke-width="0.8" stroke-opacity="0.85"/>
<rect x="58.85" y="286.55" width="572.15" height="192.15" fill="none" stroke="#1a1a1a" stroke-width="2.4"/>
<path d="M58.85,478.7 V474.1" stroke="#1a1a1a" stroke-width="2.4"/>
<text x="58.85" y="499.4" font-size="16.67" text-anchor="middle" fill="#1a1a1a" stroke="#1a1a1a" stroke-width="0.3" font-weight="normal">0</text>
<path d="M150.51,478.7 V474.1" stroke="#1a1a1a" stroke-width="2.4"/>
<text x="150.51" y="499.4" font-size="16.67" text-anchor="middle" fill="#1a1a1a" stroke="#1a1a1a" stroke-width="0.3" font-weight="normal">50</text>
<path d="M242.17,478.7 V474.1" stroke="#1a1a1a" stroke-width="2.4"/>
<text x="242.17" y="499.4" font-size="16.67" text-anchor="middle" fill="#1a1a1a" stroke="#1a1a1a" stroke-width="0.3" font-weight="normal">100</text>
<path d="M333.83,478.7 V474.1" stroke="#1a1a1a" stroke-width="2.4"/>
<text x="333.83" y="499.4" font-size="16.67" text-anchor="middle" fill="#1a1a1a" stroke="#1a1a1a" stroke-width="0.3" font-weight="normal">150</text>
<path d="M425.5,478.7 V474.1" stroke="#1a1a1a" stroke-width="2.4"/>
<text x="425.5" y="499.4" font-size="16.67" text-anchor="middle" fill="#1a1a1a" stroke="#1a1a1a" stroke-width="0.3" font-weight="normal">200</text>
<path d="M517.16,478.7 V474.1" stroke="#1a1a1a" stroke-width="2.4"/>
<text x="517.16" y="499.4" font-size="16.67" text-anchor="middle" fill="#1a1a1a" stroke="#1a1a1a" stroke-width="0.3" font-weight="normal">250</text>
<path d="M608.82,478.7 V474.1" stroke="#1a1a1a" stroke-width="2.4"/>
<text x="608.82" y="499.4" font-size="16.67" text-anchor="middle" fill="#1a1a1a" stroke="#1a1a1a" stroke-width="0.3" font-weight="normal">300</text>
<path d="M58.85,478.7 H63.45" stroke="#1a1a1a" stroke-width="2.4"/>
<text x="51.05" y="484.7" font-size="16.67" text-anchor="end" fill="#1a1a1a" stroke="#1a1a1a" stroke-width="0.3" font-weight="normal">0</text>
<path d="M58.85,435.53 H63.45" stroke="#1a1a1a" stroke-width="2.4"/>
<text x="51.05" y="441.53" font-size="16.67" text-anchor="end" fill="#1a1a1a" stroke="#1a1a1a" stroke-width="0.3" font-weight="normal">1</text>
<path d="M58.85,392.36 H63.45" stroke="#1a1a1a" stroke-width="2.4"/>
<text x="51.05" y="398.36" font-size="16.67" text-anchor="end" fill="#1a1a1a" stroke="#1a1a1a" stroke-width="0.3" font-weight="normal">2</text>
<path d="M58.85,349.19 H63.45" stroke="#1a1a1a" stroke-width="2.4"/>
<text x="51.05" y="355.19" font-size="16.67" text-anchor="end" fill="#1a1a1a" stroke="#1a1a1a" stroke-width="0.3" font-weight="normal">3</text>
<path d="M58.85,306.02 H63.45" stroke="#1a1a1a" stroke-width="2.4"/>
<text x="51.05" y="312.02" font-size="16.67" text-anchor="end" fill="#1a1a1a" stroke="#1a1a1a" stroke-width="0.3" font-weight="normal">4</text>
<path d="M631,478.7 H626.4" stroke="#1a1a1a" stroke-width="2.4"/>
<text x="638.6" y="485.5" font-size="16.67" text-anchor="start" fill="#1a1a1a" stroke="#1a1a1a" stroke-width="0.3" font-weight="normal">0.0</text>
<path d="M631,423.2 H626.4" stroke="#1a1a1a" stroke-width="2.4"/>
<text x="638.6" y="430" font-size="16.67" text-anchor="start" fill="#1a1a1a" stroke="#1a1a1a" stroke-width="0.3" font-weight="normal">0.1</text>
<path d="M631,367.69 H626.4" stroke="#1a1a1a" stroke-width="2.4"/>
<text x="638.6" y="374.49" font-size="16.67" text-anchor="start" fill="#1a1a1a" stroke="#1a1a1a" stroke-width="0.3" font-weight="normal">0.2</text>
<path d="M631,312.19 H626.4" stroke="#1a1a1a" stroke-width="2.4"/>
<text x="638.6" y="318.99" font-size="16.67" text-anchor="start" fill="#1a1a1a" stroke="#1a1a1a" stroke-width="0.3" font-weight="normal">0.3</text>
<text x="317.7" y="519.6" font-size="16.67" text-anchor="start" textLength="54.2" fill="#1a1a1a" stroke="#1a1a1a" stroke-width="0.3">x [<tspan font-style="italic">μ</tspan>m]</text>
<text transform="translate(30.7,454.4) rotate(-90)" font-size="16.67" text-anchor="start" fill="#1a1a1a" stroke="#1a1a1a" stroke-width="0.3">I [×10<tspan dx="-0.3" dy="-5.3" font-size="11.67">16</tspan><tspan dy="5.3"> W cm</tspan><tspan dx="-0.5" dy="-5.3" font-size="11.67">−2</tspan><tspan dx="0.5" dy="5.3">]</tspan></text>
<text transform="translate(683.4,383) rotate(-90)" font-size="16.67" text-anchor="middle" fill="#1a1a1a" stroke="#1a1a1a" stroke-width="0.3" font-style="italic">n/n<tspan dx="-0.6" dy="1.4" font-size="11.67">c</tspan></text>
<text x="87.6" y="305.7" font-size="13.9" text-anchor="start" fill="#1a1a1a" stroke="#1a1a1a" stroke-width="0.3" font-weight="bold">c</text>
<text x="86.1" y="444" font-size="13.9" text-anchor="start" fill="#0000ff" stroke="#0000ff" stroke-width="0.3" font-weight="normal">Reflected</text>
<path d="M132.4,452.7 L93.94,452.7" stroke="#0000ff" stroke-width="1.05" fill="none"/>
<path d="M91,452.7 L95.2,451.1 L95.2,454.3 Z" fill="#0000ff"/>
<text x="250.7" y="426.8" font-size="13.9" text-anchor="start" fill="#ff0000" stroke="#ff0000" stroke-width="0.3" font-weight="normal">Incident</text>
<path d="M260.1,435.6 L298.16,435.6" stroke="#ff0000" stroke-width="1.05" fill="none"/>
<path d="M301.1,435.6 L296.9,434 L296.9,437.2 Z" fill="#ff0000"/>
<text x="526" y="443.95" font-size="13.9" text-anchor="start" fill="#0000ff" stroke="#0000ff" stroke-width="0.3" font-weight="normal">Transmitted</text>
<path d="M553.5,452.8 L591.26,452.8" stroke="#0000ff" stroke-width="1.05" fill="none"/>
<path d="M594.2,452.8 L590,451.2 L590,454.4 Z" fill="#0000ff"/>
</svg>
</body></html>
